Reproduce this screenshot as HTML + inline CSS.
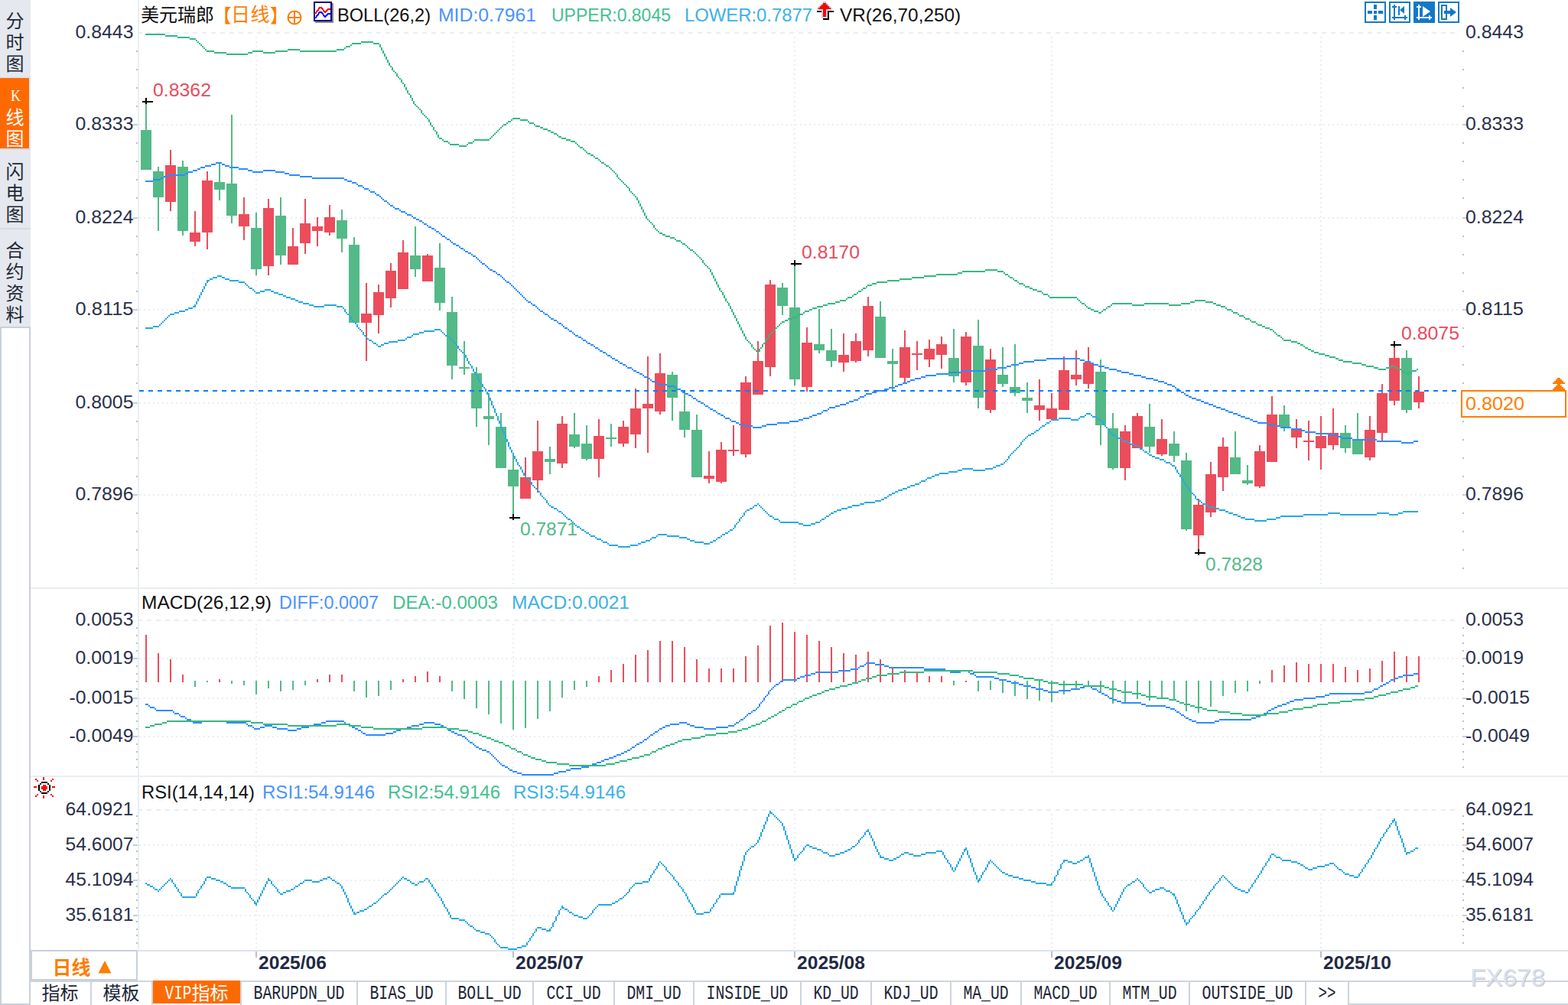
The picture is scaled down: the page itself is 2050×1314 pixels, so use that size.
<!DOCTYPE html>
<html><head><meta charset="utf-8"><title>chart</title><style>html,body{margin:0;padding:0;background:#fff}svg{display:block}text{white-space:pre}</style></head><body>
<svg width="2050" height="1314" viewBox="0 0 2050 1314" shape-rendering="crispEdges">
<rect x="0" y="0" width="2050" height="1314" fill="#fff"/>
<rect x="0" y="0" width="40" height="428" fill="#e5e8ef"/>
<rect x="0" y="102" width="38" height="92" fill="#ff6a00"/>
<rect x="0" y="100" width="40" height="2" fill="#dde1e9"/>
<rect x="0" y="194" width="40" height="2" fill="#d5dae3"/>
<rect x="0" y="298" width="40" height="2" fill="#d5dae3"/>
<rect x="0" y="427" width="40" height="887" fill="#c9d0da"/>
<rect x="2" y="429" width="36" height="883" fill="#fff"/>
<g shape-rendering="auto">
<text x="7.5" y="36" font-family="Liberation Sans, Noto Sans CJK SC, sans-serif" font-size="24" fill="#1f2836">分</text>
<text x="7.5" y="64" font-family="Liberation Sans, Noto Sans CJK SC, sans-serif" font-size="24" fill="#1f2836">时</text>
<text x="7.5" y="92" font-family="Liberation Sans, Noto Sans CJK SC, sans-serif" font-size="24" fill="#1f2836">图</text>
<text x="7.5" y="162" font-family="Liberation Sans, Noto Sans CJK SC, sans-serif" font-size="24" fill="#fff">线</text>
<text x="7.5" y="190" font-family="Liberation Sans, Noto Sans CJK SC, sans-serif" font-size="24" fill="#fff">图</text>
<text x="14" y="131.5" font-family="Liberation Serif, sans-serif" font-size="22" fill="#fff" textLength="13" lengthAdjust="spacingAndGlyphs">K</text>
<text x="7.5" y="233" font-family="Liberation Sans, Noto Sans CJK SC, sans-serif" font-size="24" fill="#1f2836">闪</text>
<text x="7.5" y="261" font-family="Liberation Sans, Noto Sans CJK SC, sans-serif" font-size="24" fill="#1f2836">电</text>
<text x="7.5" y="289" font-family="Liberation Sans, Noto Sans CJK SC, sans-serif" font-size="24" fill="#1f2836">图</text>
<text x="7.5" y="336" font-family="Liberation Sans, Noto Sans CJK SC, sans-serif" font-size="24" fill="#1f2836">合</text>
<text x="7.5" y="364" font-family="Liberation Sans, Noto Sans CJK SC, sans-serif" font-size="24" fill="#1f2836">约</text>
<text x="7.5" y="392" font-family="Liberation Sans, Noto Sans CJK SC, sans-serif" font-size="24" fill="#1f2836">资</text>
<text x="7.5" y="420" font-family="Liberation Sans, Noto Sans CJK SC, sans-serif" font-size="24" fill="#1f2836">料</text>
</g>
<rect x="40" y="768" width="2010" height="2" fill="#e9eef3"/>
<rect x="40" y="1014" width="2010" height="2" fill="#e9eef3"/>
<rect x="180" y="1242" width="1870" height="2" fill="#dde3ea"/>
<rect x="180" y="0" width="2" height="1243" fill="#e9eef3"/>
<path stroke="#e9eef4" stroke-width="2" stroke-dasharray="6 6" d="M180 43H1908"/>
<path stroke="#e9eef4" stroke-width="2" stroke-dasharray="2 4" d="M182 163H1908"/>
<path stroke="#e9eef4" stroke-width="2" stroke-dasharray="2 4" d="M182 285H1908"/>
<path stroke="#e9eef4" stroke-width="2" stroke-dasharray="2 4" d="M182 405H1908"/>
<path stroke="#e9eef4" stroke-width="2" stroke-dasharray="2 4" d="M182 527H1908"/>
<path stroke="#e9eef4" stroke-width="2" stroke-dasharray="2 4" d="M182 647H1908"/>
<path stroke="#e9eef4" stroke-width="2" stroke-dasharray="6 6" d="M180 811H1908"/>
<path stroke="#e9eef4" stroke-width="2" stroke-dasharray="2 4" d="M182 861H1908"/>
<path stroke="#e9eef4" stroke-width="2" stroke-dasharray="2 4" d="M182 913H1908"/>
<path stroke="#e9eef4" stroke-width="2" stroke-dasharray="2 4" d="M182 963H1908"/>
<path stroke="#e9eef4" stroke-width="2" stroke-dasharray="6 6" d="M180 1059H1908"/>
<path stroke="#e9eef4" stroke-width="2" stroke-dasharray="2 4" d="M182 1105H1908"/>
<path stroke="#e9eef4" stroke-width="2" stroke-dasharray="2 4" d="M182 1151H1908"/>
<path stroke="#e9eef4" stroke-width="2" stroke-dasharray="2 4" d="M182 1197H1908"/>
<path stroke="#e9eef4" stroke-width="2" stroke-dasharray="2 4" d="M335 48V768"/>
<path stroke="#e9eef4" stroke-width="2" stroke-dasharray="2 4" d="M335 816V1014"/>
<path stroke="#e9eef4" stroke-width="2" stroke-dasharray="2 4" d="M335 1064V1242"/>
<rect x="334" y="1244" width="2" height="8" fill="#b9bfcc"/>
<path stroke="#e9eef4" stroke-width="2" stroke-dasharray="2 4" d="M671 48V768"/>
<path stroke="#e9eef4" stroke-width="2" stroke-dasharray="2 4" d="M671 816V1014"/>
<path stroke="#e9eef4" stroke-width="2" stroke-dasharray="2 4" d="M671 1064V1242"/>
<rect x="670" y="1244" width="2" height="8" fill="#b9bfcc"/>
<path stroke="#e9eef4" stroke-width="2" stroke-dasharray="2 4" d="M1039 48V768"/>
<path stroke="#e9eef4" stroke-width="2" stroke-dasharray="2 4" d="M1039 816V1014"/>
<path stroke="#e9eef4" stroke-width="2" stroke-dasharray="2 4" d="M1039 1064V1242"/>
<rect x="1038" y="1244" width="2" height="8" fill="#b9bfcc"/>
<path stroke="#e9eef4" stroke-width="2" stroke-dasharray="2 4" d="M1375 48V768"/>
<path stroke="#e9eef4" stroke-width="2" stroke-dasharray="2 4" d="M1375 816V1014"/>
<path stroke="#e9eef4" stroke-width="2" stroke-dasharray="2 4" d="M1375 1064V1242"/>
<rect x="1374" y="1244" width="2" height="8" fill="#b9bfcc"/>
<path stroke="#e9eef4" stroke-width="2" stroke-dasharray="2 4" d="M1727 48V768"/>
<path stroke="#e9eef4" stroke-width="2" stroke-dasharray="2 4" d="M1727 816V1014"/>
<path stroke="#e9eef4" stroke-width="2" stroke-dasharray="2 4" d="M1727 1064V1242"/>
<rect x="1726" y="1244" width="2" height="8" fill="#b9bfcc"/>
<rect x="178" y="66" width="2" height="2" fill="#b9bfcc"/>
<rect x="1912" y="66" width="2" height="2" fill="#b9bfcc"/>
<rect x="178" y="90" width="2" height="2" fill="#b9bfcc"/>
<rect x="1912" y="90" width="2" height="2" fill="#b9bfcc"/>
<rect x="178" y="114" width="2" height="2" fill="#b9bfcc"/>
<rect x="1912" y="114" width="2" height="2" fill="#b9bfcc"/>
<rect x="178" y="138" width="2" height="2" fill="#b9bfcc"/>
<rect x="1912" y="138" width="2" height="2" fill="#b9bfcc"/>
<rect x="174" y="162" width="6" height="2" fill="#c6ccd6"/>
<rect x="1912" y="162" width="6" height="2" fill="#c6ccd6"/>
<rect x="178" y="186" width="2" height="2" fill="#b9bfcc"/>
<rect x="1912" y="186" width="2" height="2" fill="#b9bfcc"/>
<rect x="178" y="210" width="2" height="2" fill="#b9bfcc"/>
<rect x="1912" y="210" width="2" height="2" fill="#b9bfcc"/>
<rect x="178" y="234" width="2" height="2" fill="#b9bfcc"/>
<rect x="1912" y="234" width="2" height="2" fill="#b9bfcc"/>
<rect x="178" y="258" width="2" height="2" fill="#b9bfcc"/>
<rect x="1912" y="258" width="2" height="2" fill="#b9bfcc"/>
<rect x="174" y="284" width="6" height="2" fill="#c6ccd6"/>
<rect x="1912" y="284" width="6" height="2" fill="#c6ccd6"/>
<rect x="178" y="308" width="2" height="2" fill="#b9bfcc"/>
<rect x="1912" y="308" width="2" height="2" fill="#b9bfcc"/>
<rect x="178" y="332" width="2" height="2" fill="#b9bfcc"/>
<rect x="1912" y="332" width="2" height="2" fill="#b9bfcc"/>
<rect x="178" y="356" width="2" height="2" fill="#b9bfcc"/>
<rect x="1912" y="356" width="2" height="2" fill="#b9bfcc"/>
<rect x="178" y="380" width="2" height="2" fill="#b9bfcc"/>
<rect x="1912" y="380" width="2" height="2" fill="#b9bfcc"/>
<rect x="174" y="404" width="6" height="2" fill="#c6ccd6"/>
<rect x="1912" y="404" width="6" height="2" fill="#c6ccd6"/>
<rect x="178" y="428" width="2" height="2" fill="#b9bfcc"/>
<rect x="1912" y="428" width="2" height="2" fill="#b9bfcc"/>
<rect x="178" y="452" width="2" height="2" fill="#b9bfcc"/>
<rect x="1912" y="452" width="2" height="2" fill="#b9bfcc"/>
<rect x="178" y="476" width="2" height="2" fill="#b9bfcc"/>
<rect x="1912" y="476" width="2" height="2" fill="#b9bfcc"/>
<rect x="178" y="500" width="2" height="2" fill="#b9bfcc"/>
<rect x="1912" y="500" width="2" height="2" fill="#b9bfcc"/>
<rect x="174" y="526" width="6" height="2" fill="#c6ccd6"/>
<rect x="1912" y="526" width="6" height="2" fill="#c6ccd6"/>
<rect x="178" y="550" width="2" height="2" fill="#b9bfcc"/>
<rect x="1912" y="550" width="2" height="2" fill="#b9bfcc"/>
<rect x="178" y="574" width="2" height="2" fill="#b9bfcc"/>
<rect x="1912" y="574" width="2" height="2" fill="#b9bfcc"/>
<rect x="178" y="598" width="2" height="2" fill="#b9bfcc"/>
<rect x="1912" y="598" width="2" height="2" fill="#b9bfcc"/>
<rect x="178" y="622" width="2" height="2" fill="#b9bfcc"/>
<rect x="1912" y="622" width="2" height="2" fill="#b9bfcc"/>
<rect x="174" y="646" width="6" height="2" fill="#c6ccd6"/>
<rect x="1912" y="646" width="6" height="2" fill="#c6ccd6"/>
<rect x="178" y="670" width="2" height="2" fill="#b9bfcc"/>
<rect x="1912" y="670" width="2" height="2" fill="#b9bfcc"/>
<rect x="178" y="694" width="2" height="2" fill="#b9bfcc"/>
<rect x="1912" y="694" width="2" height="2" fill="#b9bfcc"/>
<rect x="178" y="718" width="2" height="2" fill="#b9bfcc"/>
<rect x="1912" y="718" width="2" height="2" fill="#b9bfcc"/>
<rect x="178" y="742" width="2" height="2" fill="#b9bfcc"/>
<rect x="1912" y="742" width="2" height="2" fill="#b9bfcc"/>
<rect x="178" y="820" width="2" height="2" fill="#b9bfcc"/>
<rect x="1912" y="820" width="2" height="2" fill="#b9bfcc"/>
<rect x="178" y="830" width="2" height="2" fill="#b9bfcc"/>
<rect x="1912" y="830" width="2" height="2" fill="#b9bfcc"/>
<rect x="178" y="840" width="2" height="2" fill="#b9bfcc"/>
<rect x="1912" y="840" width="2" height="2" fill="#b9bfcc"/>
<rect x="178" y="850" width="2" height="2" fill="#b9bfcc"/>
<rect x="1912" y="850" width="2" height="2" fill="#b9bfcc"/>
<rect x="174" y="860" width="6" height="2" fill="#c6ccd6"/>
<rect x="1912" y="860" width="6" height="2" fill="#c6ccd6"/>
<rect x="178" y="870" width="2" height="2" fill="#b9bfcc"/>
<rect x="1912" y="870" width="2" height="2" fill="#b9bfcc"/>
<rect x="178" y="880" width="2" height="2" fill="#b9bfcc"/>
<rect x="1912" y="880" width="2" height="2" fill="#b9bfcc"/>
<rect x="178" y="890" width="2" height="2" fill="#b9bfcc"/>
<rect x="1912" y="890" width="2" height="2" fill="#b9bfcc"/>
<rect x="178" y="900" width="2" height="2" fill="#b9bfcc"/>
<rect x="1912" y="900" width="2" height="2" fill="#b9bfcc"/>
<rect x="174" y="912" width="6" height="2" fill="#c6ccd6"/>
<rect x="1912" y="912" width="6" height="2" fill="#c6ccd6"/>
<rect x="178" y="922" width="2" height="2" fill="#b9bfcc"/>
<rect x="1912" y="922" width="2" height="2" fill="#b9bfcc"/>
<rect x="178" y="932" width="2" height="2" fill="#b9bfcc"/>
<rect x="1912" y="932" width="2" height="2" fill="#b9bfcc"/>
<rect x="178" y="942" width="2" height="2" fill="#b9bfcc"/>
<rect x="1912" y="942" width="2" height="2" fill="#b9bfcc"/>
<rect x="178" y="952" width="2" height="2" fill="#b9bfcc"/>
<rect x="1912" y="952" width="2" height="2" fill="#b9bfcc"/>
<rect x="174" y="962" width="6" height="2" fill="#c6ccd6"/>
<rect x="1912" y="962" width="6" height="2" fill="#c6ccd6"/>
<rect x="178" y="972" width="2" height="2" fill="#b9bfcc"/>
<rect x="1912" y="972" width="2" height="2" fill="#b9bfcc"/>
<rect x="178" y="982" width="2" height="2" fill="#b9bfcc"/>
<rect x="1912" y="982" width="2" height="2" fill="#b9bfcc"/>
<rect x="178" y="992" width="2" height="2" fill="#b9bfcc"/>
<rect x="1912" y="992" width="2" height="2" fill="#b9bfcc"/>
<rect x="178" y="1002" width="2" height="2" fill="#b9bfcc"/>
<rect x="1912" y="1002" width="2" height="2" fill="#b9bfcc"/>
<rect x="178" y="1066" width="2" height="2" fill="#b9bfcc"/>
<rect x="1912" y="1066" width="2" height="2" fill="#b9bfcc"/>
<rect x="178" y="1076" width="2" height="2" fill="#b9bfcc"/>
<rect x="1912" y="1076" width="2" height="2" fill="#b9bfcc"/>
<rect x="178" y="1084" width="2" height="2" fill="#b9bfcc"/>
<rect x="1912" y="1084" width="2" height="2" fill="#b9bfcc"/>
<rect x="178" y="1094" width="2" height="2" fill="#b9bfcc"/>
<rect x="1912" y="1094" width="2" height="2" fill="#b9bfcc"/>
<rect x="174" y="1104" width="6" height="2" fill="#c6ccd6"/>
<rect x="1912" y="1104" width="6" height="2" fill="#c6ccd6"/>
<rect x="178" y="1112" width="2" height="2" fill="#b9bfcc"/>
<rect x="1912" y="1112" width="2" height="2" fill="#b9bfcc"/>
<rect x="178" y="1122" width="2" height="2" fill="#b9bfcc"/>
<rect x="1912" y="1122" width="2" height="2" fill="#b9bfcc"/>
<rect x="178" y="1130" width="2" height="2" fill="#b9bfcc"/>
<rect x="1912" y="1130" width="2" height="2" fill="#b9bfcc"/>
<rect x="178" y="1140" width="2" height="2" fill="#b9bfcc"/>
<rect x="1912" y="1140" width="2" height="2" fill="#b9bfcc"/>
<rect x="174" y="1150" width="6" height="2" fill="#c6ccd6"/>
<rect x="1912" y="1150" width="6" height="2" fill="#c6ccd6"/>
<rect x="178" y="1158" width="2" height="2" fill="#b9bfcc"/>
<rect x="1912" y="1158" width="2" height="2" fill="#b9bfcc"/>
<rect x="178" y="1168" width="2" height="2" fill="#b9bfcc"/>
<rect x="1912" y="1168" width="2" height="2" fill="#b9bfcc"/>
<rect x="178" y="1176" width="2" height="2" fill="#b9bfcc"/>
<rect x="1912" y="1176" width="2" height="2" fill="#b9bfcc"/>
<rect x="178" y="1186" width="2" height="2" fill="#b9bfcc"/>
<rect x="1912" y="1186" width="2" height="2" fill="#b9bfcc"/>
<rect x="174" y="1196" width="6" height="2" fill="#c6ccd6"/>
<rect x="1912" y="1196" width="6" height="2" fill="#c6ccd6"/>
<rect x="178" y="1204" width="2" height="2" fill="#b9bfcc"/>
<rect x="1912" y="1204" width="2" height="2" fill="#b9bfcc"/>
<rect x="178" y="1214" width="2" height="2" fill="#b9bfcc"/>
<rect x="1912" y="1214" width="2" height="2" fill="#b9bfcc"/>
<rect x="178" y="1222" width="2" height="2" fill="#b9bfcc"/>
<rect x="1912" y="1222" width="2" height="2" fill="#b9bfcc"/>
<rect x="178" y="1232" width="2" height="2" fill="#b9bfcc"/>
<rect x="1912" y="1232" width="2" height="2" fill="#b9bfcc"/>
<text x="174.5" y="50" font-family="Liberation Sans, sans-serif" font-size="24.5" fill="#2a3049" text-anchor="end" textLength="76" lengthAdjust="spacingAndGlyphs">0.8443</text>
<text x="1916" y="50" font-family="Liberation Sans, sans-serif" font-size="24.5" fill="#2a3049" textLength="76" lengthAdjust="spacingAndGlyphs">0.8443</text>
<text x="174.5" y="170" font-family="Liberation Sans, sans-serif" font-size="24.5" fill="#2a3049" text-anchor="end" textLength="76" lengthAdjust="spacingAndGlyphs">0.8333</text>
<text x="1916" y="170" font-family="Liberation Sans, sans-serif" font-size="24.5" fill="#2a3049" textLength="76" lengthAdjust="spacingAndGlyphs">0.8333</text>
<text x="174.5" y="292" font-family="Liberation Sans, sans-serif" font-size="24.5" fill="#2a3049" text-anchor="end" textLength="76" lengthAdjust="spacingAndGlyphs">0.8224</text>
<text x="1916" y="292" font-family="Liberation Sans, sans-serif" font-size="24.5" fill="#2a3049" textLength="76" lengthAdjust="spacingAndGlyphs">0.8224</text>
<text x="174.5" y="412" font-family="Liberation Sans, sans-serif" font-size="24.5" fill="#2a3049" text-anchor="end" textLength="76" lengthAdjust="spacingAndGlyphs">0.8115</text>
<text x="1916" y="412" font-family="Liberation Sans, sans-serif" font-size="24.5" fill="#2a3049" textLength="76" lengthAdjust="spacingAndGlyphs">0.8115</text>
<text x="174.5" y="534" font-family="Liberation Sans, sans-serif" font-size="24.5" fill="#2a3049" text-anchor="end" textLength="76" lengthAdjust="spacingAndGlyphs">0.8005</text>
<text x="1916" y="534" font-family="Liberation Sans, sans-serif" font-size="24.5" fill="#2a3049" textLength="76" lengthAdjust="spacingAndGlyphs">0.8005</text>
<text x="174.5" y="654" font-family="Liberation Sans, sans-serif" font-size="24.5" fill="#2a3049" text-anchor="end" textLength="76" lengthAdjust="spacingAndGlyphs">0.7896</text>
<text x="1916" y="654" font-family="Liberation Sans, sans-serif" font-size="24.5" fill="#2a3049" textLength="76" lengthAdjust="spacingAndGlyphs">0.7896</text>
<text x="174.5" y="818" font-family="Liberation Sans, sans-serif" font-size="24.5" fill="#2a3049" text-anchor="end" textLength="76" lengthAdjust="spacingAndGlyphs">0.0053</text>
<text x="1916" y="818" font-family="Liberation Sans, sans-serif" font-size="24.5" fill="#2a3049" textLength="76" lengthAdjust="spacingAndGlyphs">0.0053</text>
<text x="174.5" y="868" font-family="Liberation Sans, sans-serif" font-size="24.5" fill="#2a3049" text-anchor="end" textLength="76" lengthAdjust="spacingAndGlyphs">0.0019</text>
<text x="1916" y="868" font-family="Liberation Sans, sans-serif" font-size="24.5" fill="#2a3049" textLength="76" lengthAdjust="spacingAndGlyphs">0.0019</text>
<text x="174.5" y="920" font-family="Liberation Sans, sans-serif" font-size="24.5" fill="#2a3049" text-anchor="end" textLength="84" lengthAdjust="spacingAndGlyphs">-0.0015</text>
<text x="1916" y="920" font-family="Liberation Sans, sans-serif" font-size="24.5" fill="#2a3049" textLength="84" lengthAdjust="spacingAndGlyphs">-0.0015</text>
<text x="174.5" y="970" font-family="Liberation Sans, sans-serif" font-size="24.5" fill="#2a3049" text-anchor="end" textLength="84" lengthAdjust="spacingAndGlyphs">-0.0049</text>
<text x="1916" y="970" font-family="Liberation Sans, sans-serif" font-size="24.5" fill="#2a3049" textLength="84" lengthAdjust="spacingAndGlyphs">-0.0049</text>
<text x="174.5" y="1066" font-family="Liberation Sans, sans-serif" font-size="24.5" fill="#2a3049" text-anchor="end" textLength="89" lengthAdjust="spacingAndGlyphs">64.0921</text>
<text x="1916" y="1066" font-family="Liberation Sans, sans-serif" font-size="24.5" fill="#2a3049" textLength="89" lengthAdjust="spacingAndGlyphs">64.0921</text>
<text x="174.5" y="1112" font-family="Liberation Sans, sans-serif" font-size="24.5" fill="#2a3049" text-anchor="end" textLength="89" lengthAdjust="spacingAndGlyphs">54.6007</text>
<text x="1916" y="1112" font-family="Liberation Sans, sans-serif" font-size="24.5" fill="#2a3049" textLength="89" lengthAdjust="spacingAndGlyphs">54.6007</text>
<text x="174.5" y="1158" font-family="Liberation Sans, sans-serif" font-size="24.5" fill="#2a3049" text-anchor="end" textLength="89" lengthAdjust="spacingAndGlyphs">45.1094</text>
<text x="1916" y="1158" font-family="Liberation Sans, sans-serif" font-size="24.5" fill="#2a3049" textLength="89" lengthAdjust="spacingAndGlyphs">45.1094</text>
<text x="174.5" y="1204" font-family="Liberation Sans, sans-serif" font-size="24.5" fill="#2a3049" text-anchor="end" textLength="89" lengthAdjust="spacingAndGlyphs">35.6181</text>
<text x="1916" y="1204" font-family="Liberation Sans, sans-serif" font-size="24.5" fill="#2a3049" textLength="89" lengthAdjust="spacingAndGlyphs">35.6181</text>
<path fill="#53b987" d="M190 132h2v90h-2zM184 170h14v52h-14zM206 218h2v84h-2zM200 224h14v34h-14zM238 210h2v98h-2zM232 218h14v84h-14zM286 212h2v50h-2zM280 238h14v10h-14zM302 150h2v142h-2zM296 240h14v42h-14zM334 278h2v82h-2zM328 298h14v54h-14zM366 258h2v88h-2zM360 282h14v52h-14zM446 274h2v56h-2zM440 288h14v24h-14zM462 310h2v112h-2zM456 320h14v102h-14zM542 296h2v66h-2zM536 334h14v18h-14zM574 318h2v88h-2zM568 350h14v46h-14zM590 388h2v108h-2zM584 408h14v70h-14zM606 446h2v44h-2zM600 480h14v2h-14zM622 480h2v78h-2zM616 488h14v46h-14zM638 514h2v68h-2zM632 544h14v4h-14zM654 540h2v72h-2zM648 558h14v54h-14zM670 596h2v80h-2zM664 614h14v22h-14zM718 584h2v36h-2zM712 600h14v4h-14zM750 540h2v46h-2zM744 568h14v16h-14zM766 556h2v46h-2zM760 580h14v20h-14zM798 554h2v30h-2zM792 572h14v2h-14zM878 486h2v64h-2zM872 490h14v30h-14zM894 512h2v60h-2zM888 538h14v24h-14zM910 542h2v82h-2zM904 562h14v62h-14zM1022 370h2v42h-2zM1016 376h14v24h-14zM1038 344h2v160h-2zM1032 402h14v94h-14zM1070 404h2v58h-2zM1064 450h14v8h-14zM1086 430h2v50h-2zM1080 458h14v14h-14zM1150 394h2v74h-2zM1144 414h14v54h-14zM1166 456h2v56h-2zM1160 472h14v4h-14zM1246 430h2v70h-2zM1240 468h14v24h-14zM1278 418h2v116h-2zM1272 452h14v68h-14zM1310 454h2v52h-2zM1304 490h14v12h-14zM1326 450h2v68h-2zM1320 506h14v8h-14zM1342 500h2v40h-2zM1336 520h14v4h-14zM1438 470h2v112h-2zM1432 486h14v70h-14zM1454 540h2v74h-2zM1448 560h14v52h-14zM1502 528h2v64h-2zM1496 558h14v26h-14zM1534 564h2v40h-2zM1528 580h14v16h-14zM1550 592h2v102h-2zM1544 602h14v90h-14zM1614 564h2v56h-2zM1608 598h14v22h-14zM1630 608h2v26h-2zM1624 628h14v4h-14zM1678 530h2v34h-2zM1672 542h14v16h-14zM1758 556h2v36h-2zM1752 566h14v20h-14zM1774 540h2v54h-2zM1768 574h14v20h-14zM1838 458h2v82h-2zM1832 468h14v68h-14z"/>
<path fill="#eb4d5c" d="M222 196h2v80h-2zM216 216h14v48h-14zM254 276h2v46h-2zM248 304h14v12h-14zM270 224h2v102h-2zM264 236h14v68h-14zM318 258h2v56h-2zM312 280h14v16h-14zM350 260h2v100h-2zM344 272h14v76h-14zM382 298h2v48h-2zM376 322h14v24h-14zM398 260h2v72h-2zM392 292h14v26h-14zM414 284h2v38h-2zM408 296h14v6h-14zM430 268h2v40h-2zM424 284h14v20h-14zM478 370h2v102h-2zM472 410h14v12h-14zM494 372h2v64h-2zM488 382h14v30h-14zM510 344h2v58h-2zM504 354h14v36h-14zM526 314h2v64h-2zM520 330h14v48h-14zM558 332h2v36h-2zM552 334h14v34h-14zM686 598h2v54h-2zM680 624h14v28h-14zM702 550h2v94h-2zM696 590h14v38h-14zM734 544h2v68h-2zM728 554h14v52h-14zM782 548h2v76h-2zM776 570h14v30h-14zM814 550h2v34h-2zM808 558h14v22h-14zM830 508h2v78h-2zM824 534h14v34h-14zM846 466h2v126h-2zM840 528h14v6h-14zM862 462h2v80h-2zM856 488h14v50h-14zM926 590h2v42h-2zM920 622h14v4h-14zM942 578h2v54h-2zM936 588h14v42h-14zM958 556h2v40h-2zM952 588h14v2h-14zM974 492h2v106h-2zM968 500h14v94h-14zM990 446h2v70h-2zM984 472h14v44h-14zM1006 366h2v126h-2zM1000 372h14v108h-14zM1054 428h2v84h-2zM1048 448h14v58h-14zM1102 436h2v50h-2zM1096 464h14v10h-14zM1118 436h2v38h-2zM1112 446h14v26h-14zM1134 388h2v78h-2zM1128 400h14v58h-14zM1182 432h2v68h-2zM1176 454h14v40h-14zM1198 446h2v38h-2zM1192 462h14v2h-14zM1214 444h2v36h-2zM1208 456h14v14h-14zM1230 440h2v42h-2zM1224 450h14v14h-14zM1262 434h2v70h-2zM1256 440h14v60h-14zM1294 456h2v84h-2zM1288 470h14v66h-14zM1358 496h2v54h-2zM1352 530h14v6h-14zM1374 514h2v34h-2zM1368 534h14v14h-14zM1390 466h2v70h-2zM1384 484h14v52h-14zM1406 458h2v46h-2zM1400 490h14v6h-14zM1422 454h2v54h-2zM1416 474h14v28h-14zM1470 556h2v72h-2zM1464 564h14v48h-14zM1486 540h2v46h-2zM1480 544h14v42h-14zM1518 548h2v48h-2zM1512 574h14v20h-14zM1566 652h2v68h-2zM1560 660h14v40h-14zM1582 604h2v72h-2zM1576 620h14v50h-14zM1598 572h2v70h-2zM1592 584h14v40h-14zM1646 582h2v56h-2zM1640 590h14v46h-14zM1662 518h2v86h-2zM1656 542h14v62h-14zM1694 548h2v38h-2zM1688 560h14v12h-14zM1710 550h2v52h-2zM1704 576h14v2h-14zM1726 544h2v70h-2zM1720 570h14v16h-14zM1742 534h2v54h-2zM1736 566h14v16h-14zM1790 544h2v58h-2zM1784 562h14v36h-14zM1806 502h2v74h-2zM1800 514h14v52h-14zM1822 452h2v78h-2zM1816 468h14v56h-14zM1854 492h2v42h-2zM1848 512h14v14h-14z"/>
<path fill="#2e8bff" d="M190 236h10v2h-10zM200 234h10v2h-10zM210 232h4v2h-4zM214 230h6v2h-6zM220 228h22v2h-22zM242 226h4v2h-4zM246 224h6v2h-6zM252 222h6v2h-6zM258 220h4v2h-4zM262 218h6v2h-6zM268 216h8v2h-8zM276 214h6v2h-6zM282 212h8v2h-8zM290 214h4v2h-4zM294 216h6v2h-6zM300 218h12v2h-12zM312 220h12v2h-12zM324 222h6v2h-6zM330 224h14v2h-14zM344 222h16v2h-16zM360 224h12v2h-12zM372 226h6v2h-6zM378 228h14v2h-14zM392 230h16v2h-16zM408 232h42v2h-42zM450 234h4v2h-4zM454 236h6v2h-6zM460 238h6v2h-6zM466 240h2v2h-2zM468 242h6v2h-6zM474 244h2v2h-2zM476 246h6v2h-6zM482 248h2v2h-2zM484 250h6v2h-6zM490 252h2v2h-2zM492 254h4v2h-4zM496 256h2v2h-2zM498 258h2v2h-2zM500 260h2v2h-2zM502 262h4v2h-4zM506 264h2v2h-2zM508 266h2v2h-2zM510 268h4v2h-4zM514 270h2v2h-2zM516 272h6v2h-6zM522 274h2v2h-2zM524 276h6v2h-6zM530 278h2v2h-2zM532 280h6v2h-6zM538 282h2v2h-2zM540 284h4v2h-4zM544 286h4v2h-4zM548 288h4v2h-4zM552 290h2v2h-2zM554 292h4v2h-4zM558 294h2v2h-2zM560 296h4v2h-4zM564 298h4v2h-4zM568 300h2v2h-2zM570 302h4v2h-4zM574 304h2v2h-2zM576 306h2v2h-2zM578 308h4v2h-4zM582 310h2v2h-2zM584 312h4v2h-4zM588 314h2v2h-2zM590 316h2v2h-2zM592 318h4v2h-4zM596 320h4v2h-4zM600 322h2v2h-2zM602 324h4v2h-4zM606 326h2v2h-2zM608 328h4v2h-4zM612 330h4v2h-4zM616 332h2v2h-2zM618 334h4v2h-4zM622 336h2v2h-2zM624 338h2v2h-2zM626 340h2v2h-2zM628 342h2v2h-2zM630 344h4v2h-4zM634 346h2v2h-2zM636 348h2v2h-2zM638 350h2v2h-2zM640 352h4v2h-4zM644 354h4v2h-4zM648 356h2v2h-2zM650 358h4v2h-4zM654 360h2v2h-2zM656 362h2v2h-2zM658 364h2v2h-2zM660 366h2v2h-2zM662 368h4v2h-4zM666 370h2v2h-2zM668 372h2v2h-2zM670 374h2v2h-2zM672 376h2v2h-2zM674 378h2v2h-2zM676 380h2v2h-2zM678 382h2v2h-2zM680 384h2v2h-2zM682 386h2v2h-2zM684 388h2v2h-2zM686 390h2v2h-2zM688 392h2v2h-2zM690 394h4v2h-4zM694 396h2v2h-2zM696 398h4v2h-4zM700 400h2v2h-2zM702 402h2v2h-2zM704 404h2v2h-2zM706 406h4v2h-4zM710 408h2v2h-2zM712 410h4v2h-4zM716 412h2v2h-2zM718 414h2v2h-2zM720 416h4v2h-4zM724 418h4v2h-4zM728 420h2v2h-2zM730 422h4v2h-4zM734 424h2v2h-2zM736 426h2v2h-2zM738 428h4v2h-4zM742 430h2v2h-2zM744 432h4v2h-4zM748 434h2v2h-2zM750 436h2v2h-2zM752 438h4v2h-4zM756 440h4v2h-4zM760 442h2v2h-2zM762 444h4v2h-4zM766 446h2v2h-2zM768 448h4v2h-4zM772 450h4v2h-4zM776 452h2v2h-2zM778 454h4v2h-4zM782 456h2v2h-2zM784 458h4v2h-4zM788 460h4v2h-4zM792 462h2v2h-2zM794 464h4v2h-4zM798 466h2v2h-2zM800 468h4v2h-4zM804 470h4v2h-4zM808 472h2v2h-2zM810 474h4v2h-4zM814 476h4v2h-4zM818 478h2v2h-2zM820 480h6v2h-6zM826 482h2v2h-2zM828 484h4v2h-4zM832 486h4v2h-4zM836 488h4v2h-4zM840 490h2v2h-2zM842 492h4v2h-4zM846 494h4v2h-4zM850 496h2v2h-2zM852 498h6v2h-6zM858 500h2v2h-2zM860 502h12v2h-12zM872 504h10v2h-10zM882 506h2v2h-2zM884 508h6v2h-6zM890 510h2v2h-2zM892 512h4v2h-4zM896 514h4v2h-4zM900 516h4v2h-4zM904 518h2v2h-2zM906 520h4v2h-4zM910 522h2v2h-2zM912 524h4v2h-4zM916 526h4v2h-4zM920 528h2v2h-2zM922 530h4v2h-4zM926 532h2v2h-2zM928 534h4v2h-4zM932 536h4v2h-4zM936 538h2v2h-2zM938 540h4v2h-4zM942 542h4v2h-4zM946 544h2v2h-2zM948 546h6v2h-6zM954 548h2v2h-2zM956 550h6v2h-6zM962 552h4v2h-4zM966 554h6v2h-6zM972 556h12v2h-12zM984 558h12v2h-12zM996 556h6v2h-6zM1002 554h14v2h-14zM1016 552h16v2h-16zM1032 550h12v2h-12zM1044 548h6v2h-6zM1050 546h8v2h-8zM1058 544h4v2h-4zM1062 542h6v2h-6zM1068 540h6v2h-6zM1074 538h2v2h-2zM1076 536h6v2h-6zM1082 534h2v2h-2zM1084 532h8v2h-8zM1092 530h6v2h-6zM1098 528h8v2h-8zM1106 526h4v2h-4zM1110 524h6v2h-6zM1116 522h6v2h-6zM1122 520h2v2h-2zM1124 518h6v2h-6zM1130 516h2v2h-2zM1132 514h8v2h-8zM1140 512h6v2h-6zM1146 510h10v2h-10zM1156 508h6v2h-6zM1162 506h8v2h-8zM1170 504h4v2h-4zM1174 502h6v2h-6zM1180 500h6v2h-6zM1186 498h4v2h-4zM1190 496h6v2h-6zM1196 494h8v2h-8zM1204 492h6v2h-6zM1210 490h14v2h-14zM1224 488h16v2h-16zM1240 486h16v2h-16zM1256 484h32v2h-32zM1288 482h16v2h-16zM1304 480h12v2h-12zM1316 478h6v2h-6zM1322 476h10v2h-10zM1332 474h6v2h-6zM1338 472h14v2h-14zM1352 470h16v2h-16zM1368 468h44v2h-44zM1412 470h6v2h-6zM1418 472h8v2h-8zM1426 474h4v2h-4zM1430 476h6v2h-6zM1436 478h8v2h-8zM1444 480h6v2h-6zM1450 482h10v2h-10zM1460 484h6v2h-6zM1466 486h10v2h-10zM1476 488h6v2h-6zM1482 490h10v2h-10zM1492 492h6v2h-6zM1498 494h10v2h-10zM1508 496h6v2h-6zM1514 498h8v2h-8zM1522 500h4v2h-4zM1526 502h6v2h-6zM1532 504h4v2h-4zM1536 506h2v2h-2zM1538 508h4v2h-4zM1542 510h2v2h-2zM1544 512h4v2h-4zM1548 514h2v2h-2zM1550 516h4v2h-4zM1554 518h4v2h-4zM1558 520h6v2h-6zM1564 522h6v2h-6zM1570 524h4v2h-4zM1574 526h6v2h-6zM1580 528h6v2h-6zM1586 530h4v2h-4zM1590 532h6v2h-6zM1596 534h6v2h-6zM1602 536h4v2h-4zM1606 538h6v2h-6zM1612 540h6v2h-6zM1618 542h4v2h-4zM1622 544h6v2h-6zM1628 546h6v2h-6zM1634 548h4v2h-4zM1638 550h6v2h-6zM1644 552h12v2h-12zM1656 554h12v2h-12zM1668 556h6v2h-6zM1674 558h14v2h-14zM1688 560h12v2h-12zM1700 562h6v2h-6zM1706 564h14v2h-14zM1720 566h16v2h-16zM1736 568h12v2h-12zM1748 570h6v2h-6zM1754 572h14v2h-14zM1768 574h32v2h-32zM1800 576h32v2h-32zM1832 578h16v2h-16zM1848 576h6v2h-6z"/>
<path fill="#35b882" d="M190 44h26v2h-26zM216 46h16v2h-16zM232 48h16v2h-16zM248 50h8v2h-8zM256 52h2v2h-2zM258 54h2v2h-2zM260 56h2v2h-2zM262 58h2v2h-2zM264 60h2v2h-2zM266 62h2v2h-2zM268 64h2v2h-2zM270 66h10v2h-10zM280 68h16v2h-16zM296 70h28v2h-28zM324 68h6v2h-6zM330 66h14v2h-14zM344 68h16v2h-16zM360 66h16v2h-16zM376 64h16v2h-16zM392 66h48v2h-48zM440 64h10v2h-10zM450 62h2v2h-2zM452 60h6v2h-6zM458 58h2v2h-2zM460 56h12v2h-12zM472 54h16v2h-16zM488 56h8v2h-8zM496 58h2v4h-2zM498 62h2v4h-2zM500 66h2v4h-2zM502 70h2v4h-2zM504 74h2v4h-2zM506 78h2v4h-2zM508 82h2v4h-2zM510 86h2v2h-2zM512 88h2v4h-2zM514 92h2v2h-2zM516 94h2v2h-2zM518 96h2v4h-2zM520 100h2v2h-2zM522 102h2v2h-2zM524 104h2v4h-2zM526 108h2v2h-2zM528 110h2v4h-2zM530 114h2v4h-2zM532 118h2v4h-2zM534 122h2v2h-2zM536 124h2v4h-2zM538 128h2v4h-2zM540 132h2v4h-2zM542 136h2v2h-2zM544 138h2v2h-2zM546 140h2v2h-2zM548 142h2v2h-2zM550 144h2v4h-2zM552 148h2v2h-2zM554 150h2v2h-2zM556 152h2v2h-2zM558 154h2v2h-2zM560 156h2v4h-2zM562 160h2v4h-2zM564 164h2v2h-2zM566 166h2v4h-2zM568 170h2v2h-2zM570 172h2v4h-2zM572 176h2v4h-2zM574 180h4v2h-4zM578 182h2v2h-2zM580 184h6v2h-6zM586 186h2v2h-2zM588 188h12v2h-12zM600 190h10v2h-10zM610 188h2v2h-2zM612 186h6v2h-6zM618 184h2v2h-2zM620 182h20v2h-20zM640 180h2v2h-2zM642 178h2v2h-2zM644 176h2v2h-2zM646 174h2v2h-2zM648 172h2v2h-2zM650 170h2v2h-2zM652 168h2v2h-2zM654 166h2v2h-2zM656 164h2v2h-2zM658 162h4v2h-4zM662 160h2v2h-2zM664 158h4v2h-4zM668 156h2v2h-2zM670 154h10v2h-10zM680 156h10v2h-10zM690 158h2v2h-2zM692 160h6v2h-6zM698 162h2v2h-2zM700 164h6v2h-6zM706 166h4v2h-4zM710 168h6v2h-6zM716 170h4v2h-4zM720 172h4v2h-4zM724 174h4v2h-4zM728 176h2v2h-2zM730 178h4v2h-4zM734 180h6v2h-6zM740 182h6v2h-6zM746 184h6v2h-6zM752 186h2v2h-2zM754 188h2v2h-2zM756 190h2v2h-2zM758 192h4v2h-4zM762 194h2v2h-2zM764 196h2v2h-2zM766 198h2v2h-2zM768 200h4v2h-4zM772 202h4v2h-4zM776 204h2v2h-2zM778 206h4v2h-4zM782 208h2v2h-2zM784 210h2v2h-2zM786 212h4v2h-4zM790 214h2v2h-2zM792 216h4v2h-4zM796 218h2v2h-2zM798 220h2v2h-2zM800 222h2v2h-2zM802 224h2v2h-2zM804 226h2v2h-2zM806 228h2v4h-2zM808 232h2v2h-2zM810 234h2v2h-2zM812 236h2v2h-2zM814 238h2v2h-2zM816 240h2v2h-2zM818 242h2v2h-2zM820 244h2v2h-2zM822 246h2v4h-2zM824 250h2v2h-2zM826 252h2v2h-2zM828 254h2v2h-2zM830 256h2v2h-2zM832 258h2v4h-2zM834 262h2v4h-2zM836 266h2v4h-2zM838 270h2v4h-2zM840 274h2v4h-2zM842 278h2v4h-2zM844 282h2v4h-2zM846 286h2v2h-2zM848 288h2v2h-2zM850 290h2v2h-2zM852 292h2v2h-2zM854 294h2v4h-2zM856 298h2v2h-2zM858 300h2v2h-2zM860 302h2v2h-2zM862 304h4v2h-4zM866 306h4v2h-4zM870 308h6v2h-6zM876 310h6v2h-6zM882 312h2v2h-2zM884 314h6v2h-6zM890 316h2v2h-2zM892 318h4v2h-4zM896 320h2v2h-2zM898 322h2v2h-2zM900 324h2v2h-2zM902 326h4v2h-4zM906 328h2v2h-2zM908 330h2v2h-2zM910 332h2v2h-2zM912 334h2v2h-2zM914 336h2v2h-2zM916 338h2v2h-2zM918 340h2v4h-2zM920 344h2v2h-2zM922 346h2v2h-2zM924 348h2v2h-2zM926 350h2v2h-2zM928 352h2v4h-2zM930 356h2v4h-2zM932 360h2v4h-2zM934 364h2v4h-2zM936 368h2v4h-2zM938 372h2v4h-2zM940 376h2v4h-2zM942 380h2v2h-2zM944 382h2v4h-2zM946 386h2v4h-2zM948 390h2v4h-2zM950 394h2v2h-2zM952 396h2v4h-2zM954 400h2v4h-2zM956 404h2v4h-2zM958 408h2v4h-2zM960 412h2v4h-2zM962 416h2v4h-2zM964 420h2v4h-2zM966 424h2v4h-2zM968 428h2v4h-2zM970 432h2v4h-2zM972 436h2v4h-2zM974 440h2v4h-2zM976 444h2v2h-2zM978 446h2v2h-2zM980 448h2v2h-2zM982 450h2v4h-2zM984 454h2v2h-2zM986 456h2v2h-2zM988 458h2v2h-2zM990 460h2v2h-2zM992 456h2v4h-2zM994 454h2v2h-2zM996 450h2v4h-2zM998 448h2v2h-2zM1000 444h2v4h-2zM1002 442h2v2h-2zM1004 438h2v4h-2zM1006 436h2v2h-2zM1008 434h2v2h-2zM1010 432h2v2h-2zM1012 430h2v2h-2zM1014 428h2v2h-2zM1016 426h2v2h-2zM1018 424h2v2h-2zM1020 422h2v2h-2zM1022 420h4v2h-4zM1026 418h4v2h-4zM1030 416h6v2h-6zM1036 414h6v2h-6zM1042 412h2v2h-2zM1044 410h6v2h-6zM1050 408h2v2h-2zM1052 406h6v2h-6zM1058 404h4v2h-4zM1062 402h6v2h-6zM1068 400h8v2h-8zM1076 398h6v2h-6zM1082 396h10v2h-10zM1092 394h6v2h-6zM1098 392h8v2h-8zM1106 390h2v2h-2zM1108 388h6v2h-6zM1114 386h2v2h-2zM1116 384h4v2h-4zM1120 382h2v2h-2zM1122 380h4v2h-4zM1126 378h2v2h-2zM1128 376h4v2h-4zM1132 374h2v2h-2zM1134 372h6v2h-6zM1140 370h6v2h-6zM1146 368h14v2h-14zM1160 366h16v2h-16zM1176 364h16v2h-16zM1192 362h16v2h-16zM1208 360h16v2h-16zM1224 358h28v2h-28zM1252 356h6v2h-6zM1258 354h30v2h-30zM1288 352h16v2h-16zM1304 354h8v2h-8zM1312 356h2v2h-2zM1314 358h4v2h-4zM1318 360h2v2h-2zM1320 362h4v2h-4zM1324 364h2v2h-2zM1326 366h4v2h-4zM1330 368h2v2h-2zM1332 370h6v2h-6zM1338 372h2v2h-2zM1340 374h6v2h-6zM1346 376h4v2h-4zM1350 378h6v2h-6zM1356 380h6v2h-6zM1362 382h2v2h-2zM1364 384h6v2h-6zM1370 386h2v2h-2zM1372 388h36v2h-36zM1408 390h2v2h-2zM1410 392h2v2h-2zM1412 394h2v2h-2zM1414 396h4v2h-4zM1418 398h2v2h-2zM1420 400h2v2h-2zM1422 402h4v2h-4zM1426 404h4v2h-4zM1430 406h6v2h-6zM1436 408h4v2h-4zM1440 406h2v2h-2zM1442 404h4v2h-4zM1446 402h2v2h-2zM1448 400h4v2h-4zM1452 398h2v2h-2zM1454 396h26v2h-26zM1480 398h16v2h-16zM1496 396h32v2h-32zM1528 398h16v2h-16zM1544 396h12v2h-12zM1556 394h6v2h-6zM1562 392h14v2h-14zM1576 394h10v2h-10zM1586 396h4v2h-4zM1590 398h6v2h-6zM1596 400h6v2h-6zM1602 402h2v2h-2zM1604 404h6v2h-6zM1610 406h2v2h-2zM1612 408h6v2h-6zM1618 410h2v2h-2zM1620 412h6v2h-6zM1626 414h2v2h-2zM1628 416h6v2h-6zM1634 418h2v2h-2zM1636 420h6v2h-6zM1642 422h2v2h-2zM1644 424h6v2h-6zM1650 426h4v2h-4zM1654 428h6v2h-6zM1660 430h4v2h-4zM1664 432h2v2h-2zM1666 434h2v2h-2zM1668 436h2v2h-2zM1670 438h4v2h-4zM1674 440h2v2h-2zM1676 442h2v2h-2zM1678 444h10v2h-10zM1688 446h8v2h-8zM1696 448h4v2h-4zM1700 450h4v2h-4zM1704 452h2v2h-2zM1706 454h4v2h-4zM1710 456h4v2h-4zM1714 458h4v2h-4zM1718 460h6v2h-6zM1724 462h8v2h-8zM1732 464h6v2h-6zM1738 466h8v2h-8zM1746 468h4v2h-4zM1750 470h6v2h-6zM1756 472h12v2h-12zM1768 474h12v2h-12zM1780 476h6v2h-6zM1786 478h10v2h-10zM1796 480h6v2h-6zM1802 482h10v2h-10zM1812 480h6v2h-6zM1818 478h6v2h-6zM1824 480h4v2h-4zM1828 482h4v2h-4zM1832 484h2v2h-2zM1834 486h4v2h-4zM1838 488h4v2h-4zM1842 486h4v2h-4zM1846 484h6v2h-6zM1852 482h2v2h-2z"/>
<path fill="#29a8e0" d="M190 428h10v2h-10zM200 426h8v2h-8zM208 424h2v2h-2zM210 422h2v2h-2zM212 420h2v2h-2zM214 418h2v2h-2zM216 416h2v2h-2zM218 414h2v2h-2zM220 412h2v2h-2zM222 410h6v2h-6zM228 408h6v2h-6zM234 406h8v2h-8zM242 404h4v2h-4zM246 402h6v2h-6zM252 400h4v2h-4zM254 398h2v2h-2zM256 394h2v4h-2zM258 390h2v4h-2zM260 386h2v4h-2zM262 382h2v4h-2zM264 378h2v4h-2zM266 374h2v4h-2zM268 370h2v4h-2zM270 366h4v2h-4zM270 368h2v2h-2zM274 364h4v2h-4zM278 362h6v2h-6zM284 360h6v2h-6zM290 362h4v2h-4zM294 364h6v2h-6zM300 366h12v2h-12zM312 368h8v2h-8zM320 370h2v2h-2zM322 372h2v2h-2zM324 374h2v2h-2zM326 376h4v2h-4zM330 378h2v2h-2zM332 380h2v2h-2zM334 382h6v2h-6zM340 380h6v2h-6zM346 378h8v2h-8zM354 380h4v2h-4zM358 382h6v2h-6zM364 384h6v2h-6zM370 386h4v2h-4zM374 388h6v2h-6zM380 390h6v2h-6zM386 392h4v2h-4zM390 394h6v2h-6zM396 396h8v2h-8zM404 398h6v2h-6zM410 400h14v2h-14zM424 398h16v2h-16zM440 400h8v2h-8zM448 402h2v2h-2zM450 404h2v4h-2zM452 408h2v2h-2zM454 410h2v2h-2zM456 412h2v2h-2zM458 414h2v4h-2zM460 418h2v2h-2zM462 420h2v2h-2zM464 422h2v2h-2zM466 424h2v4h-2zM468 428h2v2h-2zM470 430h2v2h-2zM472 432h2v2h-2zM474 434h2v4h-2zM476 438h2v2h-2zM478 440h2v2h-2zM480 442h2v2h-2zM482 444h4v2h-4zM486 446h2v2h-2zM488 448h4v2h-4zM492 450h2v2h-2zM494 452h4v2h-4zM498 450h4v2h-4zM502 448h6v2h-6zM508 446h12v2h-12zM520 444h10v2h-10zM530 442h2v2h-2zM532 440h6v2h-6zM538 438h2v2h-2zM540 436h8v2h-8zM548 434h6v2h-6zM554 432h14v2h-14zM568 430h8v2h-8zM576 432h2v2h-2zM578 434h2v2h-2zM580 436h2v2h-2zM582 438h4v2h-4zM586 440h2v2h-2zM588 442h2v2h-2zM590 444h2v2h-2zM592 446h2v2h-2zM594 448h2v2h-2zM596 450h2v2h-2zM598 452h2v4h-2zM600 456h2v2h-2zM602 458h2v2h-2zM604 460h2v2h-2zM606 462h2v2h-2zM608 464h2v4h-2zM610 468h2v4h-2zM612 472h2v4h-2zM614 476h2v2h-2zM616 478h2v4h-2zM618 482h2v4h-2zM620 486h2v4h-2zM622 490h2v2h-2zM624 492h2v4h-2zM626 496h2v4h-2zM628 500h2v2h-2zM630 502h2v4h-2zM632 506h2v2h-2zM634 508h2v4h-2zM636 512h2v4h-2zM638 516h2v4h-2zM640 520h2v4h-2zM642 524h2v6h-2zM644 530h2v4h-2zM646 534h2v6h-2zM648 540h2v4h-2zM650 544h2v6h-2zM652 550h2v4h-2zM654 554h2v6h-2zM656 560h2v4h-2zM658 564h2v4h-2zM660 568h2v6h-2zM662 574h2v4h-2zM664 578h2v6h-2zM666 584h2v4h-2zM668 588h2v4h-2zM670 592h2v4h-2zM672 596h2v4h-2zM674 600h2v4h-2zM676 604h2v4h-2zM678 608h2v2h-2zM680 610h2v4h-2zM682 614h2v4h-2zM684 618h2v4h-2zM686 622h2v2h-2zM688 624h2v2h-2zM690 626h2v2h-2zM692 628h2v2h-2zM694 630h2v4h-2zM696 634h2v2h-2zM698 636h2v2h-2zM700 638h2v2h-2zM702 640h2v2h-2zM704 642h2v2h-2zM706 644h2v4h-2zM708 648h2v2h-2zM710 650h2v2h-2zM712 652h2v2h-2zM714 654h2v4h-2zM716 658h2v2h-2zM718 660h2v2h-2zM720 662h4v2h-4zM724 664h4v2h-4zM728 666h2v2h-2zM730 668h4v2h-4zM734 670h2v2h-2zM736 672h2v2h-2zM738 674h2v2h-2zM740 676h2v2h-2zM742 678h4v2h-4zM746 680h2v2h-2zM748 682h2v2h-2zM750 684h2v2h-2zM752 686h2v2h-2zM754 688h4v2h-4zM758 690h2v2h-2zM760 692h4v2h-4zM764 694h2v2h-2zM766 696h4v2h-4zM770 698h2v2h-2zM772 700h6v2h-6zM778 702h2v2h-2zM780 704h6v2h-6zM786 706h2v2h-2zM788 708h6v2h-6zM794 710h2v2h-2zM796 712h12v2h-12zM808 714h16v2h-16zM824 712h10v2h-10zM834 710h4v2h-4zM838 708h6v2h-6zM844 706h6v2h-6zM850 704h2v2h-2zM852 702h6v2h-6zM858 700h2v2h-2zM860 698h12v2h-12zM872 700h16v2h-16zM888 702h10v2h-10zM898 704h4v2h-4zM902 706h6v2h-6zM908 708h12v2h-12zM920 710h8v2h-8zM928 708h4v2h-4zM932 706h4v2h-4zM936 704h2v2h-2zM938 702h4v2h-4zM942 700h2v2h-2zM944 698h4v2h-4zM948 696h4v2h-4zM952 694h2v2h-2zM954 692h4v2h-4zM958 690h2v2h-2zM960 686h2v4h-2zM962 684h2v2h-2zM964 682h2v2h-2zM966 678h2v4h-2zM968 676h2v2h-2zM970 674h2v2h-2zM972 670h2v4h-2zM974 668h2v2h-2zM976 666h4v2h-4zM980 664h4v2h-4zM984 662h2v2h-2zM986 660h4v2h-4zM990 658h2v2h-2zM992 660h2v2h-2zM994 662h2v2h-2zM996 664h2v2h-2zM998 666h2v2h-2zM1000 668h2v2h-2zM1002 670h2v2h-2zM1004 672h2v2h-2zM1006 674h4v2h-4zM1010 676h2v2h-2zM1012 678h6v2h-6zM1018 680h2v2h-2zM1020 682h24v2h-24zM1044 684h6v2h-6zM1050 686h10v2h-10zM1060 684h6v2h-6zM1066 682h6v2h-6zM1072 680h2v2h-2zM1074 678h4v2h-4zM1078 676h2v2h-2zM1080 674h4v2h-4zM1084 672h2v2h-2zM1086 670h4v2h-4zM1090 668h4v2h-4zM1094 666h6v2h-6zM1100 664h8v2h-8zM1108 662h6v2h-6zM1114 660h10v2h-10zM1124 658h6v2h-6zM1130 656h14v2h-14zM1144 654h8v2h-8zM1152 652h4v2h-4zM1156 650h4v2h-4zM1160 648h2v2h-2zM1162 646h4v2h-4zM1166 644h4v2h-4zM1170 642h4v2h-4zM1174 640h6v2h-6zM1180 638h6v2h-6zM1186 636h4v2h-4zM1190 634h6v2h-6zM1196 632h6v2h-6zM1202 630h2v2h-2zM1204 628h6v2h-6zM1210 626h2v2h-2zM1212 624h6v2h-6zM1218 622h4v2h-4zM1222 620h6v2h-6zM1228 618h12v2h-12zM1240 616h12v2h-12zM1252 614h6v2h-6zM1258 612h14v2h-14zM1272 614h16v2h-16zM1288 612h10v2h-10zM1298 610h4v2h-4zM1302 608h6v2h-6zM1308 606h4v2h-4zM1312 604h2v2h-2zM1314 602h2v2h-2zM1316 600h2v2h-2zM1318 596h2v4h-2zM1320 594h2v2h-2zM1322 592h2v2h-2zM1324 590h2v2h-2zM1326 588h2v2h-2zM1328 586h2v2h-2zM1330 584h2v2h-2zM1332 582h2v2h-2zM1334 578h2v4h-2zM1336 576h2v2h-2zM1338 574h2v2h-2zM1340 572h2v2h-2zM1342 570h2v2h-2zM1344 568h4v2h-4zM1348 566h4v2h-4zM1352 564h2v2h-2zM1354 562h4v2h-4zM1358 560h2v2h-2zM1360 558h2v2h-2zM1362 556h4v2h-4zM1366 554h2v2h-2zM1368 552h4v2h-4zM1372 550h2v2h-2zM1374 548h10v2h-10zM1384 546h16v2h-16zM1400 548h10v2h-10zM1410 546h2v2h-2zM1412 544h6v2h-6zM1418 542h2v2h-2zM1420 540h6v2h-6zM1426 542h2v2h-2zM1428 544h6v2h-6zM1434 546h2v2h-2zM1436 548h4v2h-4zM1440 550h2v2h-2zM1442 552h2v4h-2zM1444 556h2v2h-2zM1446 558h2v2h-2zM1448 560h2v2h-2zM1450 562h2v4h-2zM1452 566h2v2h-2zM1454 568h4v2h-4zM1458 570h2v2h-2zM1460 572h6v2h-6zM1466 574h2v2h-2zM1468 576h6v2h-6zM1474 578h4v2h-4zM1478 580h6v2h-6zM1484 582h4v2h-4zM1488 584h2v2h-2zM1490 586h4v2h-4zM1494 588h2v2h-2zM1496 590h4v2h-4zM1500 592h2v2h-2zM1502 594h4v2h-4zM1506 596h4v2h-4zM1510 598h6v2h-6zM1516 600h6v2h-6zM1522 602h2v2h-2zM1524 604h6v2h-6zM1530 606h2v2h-2zM1532 608h4v2h-4zM1536 610h2v4h-2zM1538 614h2v4h-2zM1540 618h2v2h-2zM1542 620h2v4h-2zM1544 624h2v2h-2zM1546 626h2v4h-2zM1548 630h2v4h-2zM1550 634h2v2h-2zM1552 636h2v2h-2zM1554 638h2v4h-2zM1556 642h2v2h-2zM1558 644h2v2h-2zM1560 646h2v2h-2zM1562 648h2v4h-2zM1564 652h2v2h-2zM1566 654h4v2h-4zM1570 656h2v2h-2zM1572 658h6v2h-6zM1578 660h2v2h-2zM1580 662h8v2h-8zM1588 664h6v2h-6zM1594 666h8v2h-8zM1602 668h4v2h-4zM1606 670h6v2h-6zM1612 672h6v2h-6zM1618 674h4v2h-4zM1622 676h6v2h-6zM1628 678h12v2h-12zM1640 680h16v2h-16zM1656 678h12v2h-12zM1668 676h6v2h-6zM1674 674h30v2h-30zM1704 672h32v2h-32zM1736 670h16v2h-16zM1752 672h48v2h-48zM1800 670h16v2h-16zM1816 672h12v2h-12zM1828 670h6v2h-6zM1834 668h20v2h-20z"/>
<path stroke="#0a7bff" stroke-width="2" stroke-dasharray="6 6" d="M182 511H1904"/>
<rect x="186" y="132" width="14" height="2" fill="#000"/>
<rect x="190" y="128" width="2" height="8" fill="#000"/>
<text x="200" y="126" font-family="Liberation Sans, sans-serif" font-size="24" fill="#e94b5e" textLength="76" lengthAdjust="spacingAndGlyphs">0.8362</text>
<rect x="1034" y="344" width="14" height="2" fill="#000"/>
<rect x="1038" y="340" width="2" height="8" fill="#000"/>
<text x="1048" y="338" font-family="Liberation Sans, sans-serif" font-size="24" fill="#e94b5e" textLength="76" lengthAdjust="spacingAndGlyphs">0.8170</text>
<rect x="1818" y="450" width="14" height="2" fill="#000"/>
<rect x="1822" y="446" width="2" height="8" fill="#000"/>
<text x="1832" y="444" font-family="Liberation Sans, sans-serif" font-size="24" fill="#e94b5e" textLength="76" lengthAdjust="spacingAndGlyphs">0.8075</text>
<rect x="666" y="676" width="14" height="2" fill="#000"/>
<rect x="670" y="672" width="2" height="8" fill="#000"/>
<text x="680" y="700" font-family="Liberation Sans, sans-serif" font-size="24" fill="#53b987" textLength="75" lengthAdjust="spacingAndGlyphs">0.7871</text>
<rect x="1562" y="722" width="14" height="2" fill="#000"/>
<rect x="1566" y="718" width="2" height="8" fill="#000"/>
<text x="1576" y="746" font-family="Liberation Sans, sans-serif" font-size="24" fill="#53b987" textLength="75" lengthAdjust="spacingAndGlyphs">0.7828</text>
<rect x="1910" y="510" width="138" height="36" fill="#ff7d00"/>
<rect x="1912" y="512" width="134" height="32" fill="#fff"/>
<text x="1916" y="535.5" font-family="Liberation Sans, sans-serif" font-size="24" fill="#ff7d00" textLength="77" lengthAdjust="spacingAndGlyphs" shape-rendering="auto">0.8020</text>
<rect x="2036" y="494" width="4" height="2" fill="#ff7d00"/>
<rect x="2034" y="496" width="8" height="2" fill="#ff7d00"/>
<rect x="2032" y="498" width="12" height="2" fill="#ff7d00"/>
<rect x="2030" y="500" width="16" height="2" fill="#ff7d00"/>
<rect x="2036" y="502" width="4" height="2" fill="#ff7d00"/>
<rect x="2034" y="504" width="8" height="2" fill="#ff7d00"/>
<rect x="2032" y="506" width="12" height="2" fill="#ff7d00"/>
<rect x="2030" y="508" width="16" height="2" fill="#ff7d00"/>
<path fill="#53b987" d="M254 890h2v8h-2zM270 890h2v2h-2zM302 890h2v4h-2zM318 890h2v6h-2zM334 890h2v18h-2zM350 890h2v10h-2zM366 890h2v14h-2zM382 890h2v12h-2zM398 890h2v6h-2zM462 890h2v14h-2zM478 890h2v22h-2zM494 890h2v20h-2zM510 890h2v12h-2zM590 890h2v14h-2zM606 890h2v24h-2zM622 890h2v36h-2zM638 890h2v44h-2zM654 890h2v56h-2zM670 890h2v64h-2zM686 890h2v62h-2zM702 890h2v50h-2zM718 890h2v40h-2zM734 890h2v22h-2zM750 890h2v12h-2zM766 890h2v8h-2zM1246 890h2v6h-2zM1278 890h2v14h-2zM1294 890h2v12h-2zM1310 890h2v16h-2zM1326 890h2v20h-2zM1342 890h2v24h-2zM1358 890h2v26h-2zM1374 890h2v28h-2zM1390 890h2v18h-2zM1406 890h2v12h-2zM1422 890h2v6h-2zM1438 890h2v16h-2zM1454 890h2v30h-2zM1470 890h2v30h-2zM1486 890h2v24h-2zM1502 890h2v26h-2zM1518 890h2v24h-2zM1534 890h2v26h-2zM1550 890h2v40h-2zM1566 890h2v42h-2zM1582 890h2v34h-2zM1598 890h2v20h-2zM1614 890h2v16h-2zM1630 890h2v14h-2zM1646 890h2v4h-2z"/>
<path fill="#eb4d5c" d="M190 830h2v62h-2zM206 854h2v38h-2zM222 862h2v30h-2zM238 882h2v10h-2zM286 888h2v4h-2zM414 888h2v4h-2zM430 882h2v10h-2zM446 882h2v10h-2zM526 888h2v4h-2zM542 884h2v8h-2zM558 878h2v14h-2zM574 884h2v8h-2zM782 884h2v8h-2zM798 876h2v16h-2zM814 868h2v24h-2zM830 856h2v36h-2zM846 850h2v42h-2zM862 838h2v54h-2zM878 838h2v54h-2zM894 846h2v46h-2zM910 862h2v30h-2zM926 874h2v18h-2zM942 874h2v18h-2zM958 874h2v18h-2zM974 858h2v34h-2zM990 844h2v48h-2zM1006 818h2v74h-2zM1022 814h2v78h-2zM1038 826h2v66h-2zM1054 830h2v62h-2zM1070 838h2v54h-2zM1086 846h2v46h-2zM1102 854h2v38h-2zM1118 856h2v36h-2zM1134 852h2v40h-2zM1150 862h2v30h-2zM1166 872h2v20h-2zM1182 876h2v16h-2zM1198 880h2v12h-2zM1214 884h2v8h-2zM1230 884h2v8h-2zM1262 890h2v2h-2zM1662 876h2v16h-2zM1678 870h2v22h-2zM1694 866h2v26h-2zM1710 868h2v24h-2zM1726 868h2v24h-2zM1742 868h2v24h-2zM1758 872h2v20h-2zM1774 876h2v16h-2zM1790 874h2v18h-2zM1806 864h2v28h-2zM1822 852h2v40h-2zM1838 858h2v34h-2zM1854 858h2v34h-2z"/>
<path fill="#2e8bff" d="M190 920h4v2h-4zM194 922h2v2h-2zM196 924h6v2h-6zM202 926h2v2h-2zM204 928h22v2h-22zM226 930h2v2h-2zM228 932h6v2h-6zM234 934h2v2h-2zM236 936h6v2h-6zM242 938h2v2h-2zM244 940h6v2h-6zM250 942h2v2h-2zM252 944h12v2h-12zM264 942h32v2h-32zM296 944h26v2h-26zM322 946h2v2h-2zM324 948h6v2h-6zM330 950h2v2h-2zM332 952h8v2h-8zM340 950h6v2h-6zM346 948h10v2h-10zM356 950h6v2h-6zM362 952h14v2h-14zM376 954h12v2h-12zM388 952h6v2h-6zM394 950h10v2h-10zM404 948h6v2h-6zM410 946h10v2h-10zM420 944h6v2h-6zM426 942h24v2h-24zM450 944h2v2h-2zM452 946h6v2h-6zM458 948h2v2h-2zM460 950h4v2h-4zM464 952h4v2h-4zM468 954h4v2h-4zM472 956h2v2h-2zM474 958h4v2h-4zM478 960h26v2h-26zM504 958h10v2h-10zM514 956h4v2h-4zM518 954h6v2h-6zM524 952h8v2h-8zM532 950h6v2h-6zM538 948h10v2h-10zM548 946h6v2h-6zM554 944h14v2h-14zM568 946h8v2h-8zM576 948h4v2h-4zM580 950h4v2h-4zM584 952h2v2h-2zM586 954h4v2h-4zM590 956h4v2h-4zM594 958h4v2h-4zM598 960h6v2h-6zM604 962h4v2h-4zM608 964h2v2h-2zM610 966h2v2h-2zM612 968h2v2h-2zM614 970h4v2h-4zM618 972h2v2h-2zM620 974h2v2h-2zM622 976h4v2h-4zM626 978h4v2h-4zM630 980h6v2h-6zM636 982h4v2h-4zM640 984h2v2h-2zM642 986h2v2h-2zM644 988h2v2h-2zM646 990h2v2h-2zM648 992h2v2h-2zM650 994h2v2h-2zM652 996h2v2h-2zM654 998h2v2h-2zM656 1000h4v2h-4zM660 1002h4v2h-4zM664 1004h2v2h-2zM666 1006h4v2h-4zM670 1008h6v2h-6zM676 1010h6v2h-6zM682 1012h42v2h-42zM724 1010h6v2h-6zM730 1008h10v2h-10zM740 1006h6v2h-6zM746 1004h14v2h-14zM760 1002h10v2h-10zM770 1000h4v2h-4zM774 998h6v2h-6zM780 996h6v2h-6zM786 994h4v2h-4zM790 992h6v2h-6zM796 990h6v2h-6zM802 988h4v2h-4zM806 986h6v2h-6zM812 984h4v2h-4zM816 982h4v2h-4zM820 980h4v2h-4zM824 978h2v2h-2zM826 976h4v2h-4zM830 974h2v2h-2zM832 972h4v2h-4zM836 970h4v2h-4zM840 968h2v2h-2zM842 966h4v2h-4zM846 964h2v2h-2zM848 962h2v2h-2zM850 960h4v2h-4zM854 958h2v2h-2zM856 956h4v2h-4zM860 954h2v2h-2zM862 952h4v2h-4zM866 950h4v2h-4zM870 948h6v2h-6zM876 946h12v2h-12zM888 944h10v2h-10zM898 946h4v2h-4zM902 948h6v2h-6zM908 950h12v2h-12zM920 952h16v2h-16zM936 950h16v2h-16zM952 948h8v2h-8zM960 946h2v2h-2zM962 944h4v2h-4zM966 942h2v2h-2zM968 940h4v2h-4zM972 938h2v2h-2zM974 936h2v2h-2zM976 934h2v2h-2zM978 932h4v2h-4zM982 930h2v2h-2zM984 928h4v2h-4zM988 926h2v2h-2zM990 924h2v2h-2zM992 920h2v4h-2zM994 918h2v2h-2zM996 916h2v2h-2zM998 912h2v4h-2zM1000 910h2v2h-2zM1002 908h2v2h-2zM1004 904h2v4h-2zM1006 902h2v2h-2zM1008 900h2v2h-2zM1010 898h2v2h-2zM1012 896h2v2h-2zM1014 894h4v2h-4zM1018 892h2v2h-2zM1020 890h2v2h-2zM1022 888h20v2h-20zM1042 886h4v2h-4zM1046 884h6v2h-6zM1052 882h8v2h-8zM1060 880h6v2h-6zM1066 878h30v2h-30zM1096 876h16v2h-16zM1112 874h10v2h-10zM1122 872h2v2h-2zM1124 870h6v2h-6zM1130 868h2v2h-2zM1132 866h12v2h-12zM1144 868h12v2h-12zM1156 870h6v2h-6zM1162 872h46v2h-46zM1208 874h28v2h-28zM1236 876h6v2h-6zM1242 878h14v2h-14zM1256 876h10v2h-10zM1266 878h2v2h-2zM1268 880h6v2h-6zM1274 882h2v2h-2zM1276 884h24v2h-24zM1300 886h6v2h-6zM1306 888h10v2h-10zM1316 890h6v2h-6zM1322 892h10v2h-10zM1332 894h6v2h-6zM1338 896h10v2h-10zM1348 898h6v2h-6zM1354 900h10v2h-10zM1364 902h6v2h-6zM1370 904h14v2h-14zM1384 902h16v2h-16zM1400 900h12v2h-12zM1412 898h6v2h-6zM1418 896h8v2h-8zM1426 898h2v2h-2zM1428 900h6v2h-6zM1434 902h2v2h-2zM1436 904h4v2h-4zM1440 906h4v2h-4zM1444 908h4v2h-4zM1448 910h2v2h-2zM1450 912h4v2h-4zM1454 914h6v2h-6zM1460 916h6v2h-6zM1466 918h26v2h-26zM1492 920h6v2h-6zM1498 922h26v2h-26zM1524 924h6v2h-6zM1530 926h6v2h-6zM1536 928h2v2h-2zM1538 930h4v2h-4zM1542 932h2v2h-2zM1544 934h4v2h-4zM1548 936h2v2h-2zM1550 938h4v2h-4zM1554 940h4v2h-4zM1558 942h6v2h-6zM1564 944h24v2h-24zM1588 942h6v2h-6zM1594 940h42v2h-42zM1636 938h6v2h-6zM1642 936h6v2h-6zM1648 934h4v2h-4zM1652 932h4v2h-4zM1656 930h2v2h-2zM1658 928h4v2h-4zM1662 926h4v2h-4zM1666 924h4v2h-4zM1670 922h6v2h-6zM1676 920h6v2h-6zM1682 918h4v2h-4zM1686 916h6v2h-6zM1692 914h12v2h-12zM1704 912h16v2h-16zM1720 910h12v2h-12zM1732 908h6v2h-6zM1738 906h46v2h-46zM1784 904h10v2h-10zM1794 902h2v2h-2zM1796 900h6v2h-6zM1802 898h2v2h-2zM1804 896h4v2h-4zM1808 894h4v2h-4zM1812 892h4v2h-4zM1816 890h2v2h-2zM1818 888h4v2h-4zM1822 886h6v2h-6zM1828 884h6v2h-6zM1834 882h14v2h-14zM1848 880h6v2h-6z"/>
<path fill="#35b882" d="M190 950h6v2h-6zM196 948h6v2h-6zM202 946h10v2h-10zM212 944h6v2h-6zM218 942h110v2h-110zM328 944h16v2h-16zM344 946h32v2h-32zM376 948h64v2h-64zM440 946h16v2h-16zM456 948h16v2h-16zM472 950h16v2h-16zM488 952h64v2h-64zM552 950h32v2h-32zM584 952h16v2h-16zM600 954h12v2h-12zM612 956h6v2h-6zM618 958h8v2h-8zM626 960h4v2h-4zM630 962h6v2h-6zM636 964h6v2h-6zM642 966h4v2h-4zM646 968h6v2h-6zM652 970h6v2h-6zM658 972h2v2h-2zM660 974h6v2h-6zM666 976h2v2h-2zM668 978h6v2h-6zM674 980h2v2h-2zM676 982h6v2h-6zM682 984h2v2h-2zM684 986h6v2h-6zM690 988h4v2h-4zM694 990h6v2h-6zM700 992h8v2h-8zM708 994h6v2h-6zM714 996h14v2h-14zM728 998h16v2h-16zM744 1000h48v2h-48zM792 998h12v2h-12zM804 996h6v2h-6zM810 994h10v2h-10zM820 992h6v2h-6zM826 990h10v2h-10zM836 988h6v2h-6zM842 986h8v2h-8zM850 984h2v2h-2zM852 982h6v2h-6zM858 980h2v2h-2zM860 978h6v2h-6zM866 976h4v2h-4zM870 974h6v2h-6zM876 972h6v2h-6zM882 970h4v2h-4zM886 968h6v2h-6zM892 966h12v2h-12zM904 964h12v2h-12zM916 962h6v2h-6zM922 960h14v2h-14zM936 958h16v2h-16zM952 956h12v2h-12zM964 954h6v2h-6zM970 952h8v2h-8zM978 950h4v2h-4zM982 948h6v2h-6zM988 946h6v2h-6zM994 944h2v2h-2zM996 942h6v2h-6zM1002 940h2v2h-2zM1004 938h4v2h-4zM1008 936h4v2h-4zM1012 934h4v2h-4zM1016 932h2v2h-2zM1018 930h4v2h-4zM1022 928h4v2h-4zM1026 926h2v2h-2zM1028 924h6v2h-6zM1034 922h2v2h-2zM1036 920h6v2h-6zM1042 918h2v2h-2zM1044 916h6v2h-6zM1050 914h2v2h-2zM1052 912h6v2h-6zM1058 910h4v2h-4zM1062 908h6v2h-6zM1068 906h6v2h-6zM1074 904h4v2h-4zM1078 902h6v2h-6zM1084 900h8v2h-8zM1092 898h6v2h-6zM1098 896h10v2h-10zM1108 894h6v2h-6zM1114 892h8v2h-8zM1122 890h4v2h-4zM1126 888h6v2h-6zM1132 886h8v2h-8zM1140 884h6v2h-6zM1146 882h14v2h-14zM1160 880h16v2h-16zM1176 878h32v2h-32zM1208 876h64v2h-64zM1272 878h32v2h-32zM1304 880h16v2h-16zM1320 882h12v2h-12zM1332 884h6v2h-6zM1338 886h14v2h-14zM1352 888h12v2h-12zM1364 890h6v2h-6zM1370 892h14v2h-14zM1384 894h32v2h-32zM1416 896h28v2h-28zM1444 898h6v2h-6zM1450 900h10v2h-10zM1460 902h6v2h-6zM1466 904h14v2h-14zM1480 906h12v2h-12zM1492 908h6v2h-6zM1498 910h14v2h-14zM1512 912h16v2h-16zM1528 914h10v2h-10zM1538 916h4v2h-4zM1542 918h6v2h-6zM1548 920h8v2h-8zM1556 922h6v2h-6zM1562 924h10v2h-10zM1572 926h6v2h-6zM1578 928h14v2h-14zM1592 930h16v2h-16zM1608 932h16v2h-16zM1624 934h32v2h-32zM1656 932h16v2h-16zM1672 930h12v2h-12zM1684 928h6v2h-6zM1690 926h14v2h-14zM1704 924h12v2h-12zM1716 922h6v2h-6zM1722 920h14v2h-14zM1736 918h16v2h-16zM1752 916h16v2h-16zM1768 914h16v2h-16zM1784 912h12v2h-12zM1796 910h6v2h-6zM1802 908h10v2h-10zM1812 906h6v2h-6zM1818 904h10v2h-10zM1828 902h6v2h-6zM1834 900h10v2h-10zM1844 898h6v2h-6zM1850 896h4v2h-4z"/>
<path fill="#29a8e0" d="M190 1154h2v2h-2zM192 1156h4v2h-4zM196 1158h4v2h-4zM200 1160h2v2h-2zM202 1162h4v2h-4zM206 1164h2v2h-2zM208 1162h2v2h-2zM210 1160h2v2h-2zM212 1158h2v2h-2zM214 1156h2v2h-2zM216 1154h2v2h-2zM218 1152h2v2h-2zM220 1150h2v2h-2zM222 1148h2v2h-2zM224 1150h2v4h-2zM226 1154h2v2h-2zM228 1156h2v4h-2zM230 1160h2v2h-2zM232 1162h2v4h-2zM234 1166h2v2h-2zM236 1168h2v4h-2zM238 1172h18v2h-18zM256 1168h2v4h-2zM258 1164h2v4h-2zM260 1162h2v2h-2zM262 1158h2v4h-2zM264 1156h2v2h-2zM266 1152h2v4h-2zM268 1148h2v4h-2zM270 1146h6v2h-6zM276 1148h6v2h-6zM282 1150h6v2h-6zM288 1152h4v2h-4zM292 1154h4v2h-4zM296 1156h2v2h-2zM298 1158h4v2h-4zM302 1160h18v2h-18zM320 1162h2v4h-2zM322 1166h2v2h-2zM324 1168h2v2h-2zM326 1170h2v4h-2zM328 1174h2v2h-2zM330 1176h2v2h-2zM332 1178h2v2h-2zM332 1180h4v2h-4zM334 1182h2v2h-2zM336 1176h2v4h-2zM338 1172h2v4h-2zM340 1168h2v4h-2zM342 1164h2v4h-2zM344 1160h2v4h-2zM346 1156h2v4h-2zM348 1152h2v4h-2zM350 1148h2v2h-2zM350 1150h4v2h-4zM354 1152h2v4h-2zM356 1156h2v2h-2zM358 1158h2v2h-2zM360 1160h2v2h-2zM362 1162h2v4h-2zM364 1166h2v2h-2zM366 1168h4v2h-4zM370 1166h4v2h-4zM374 1164h6v2h-6zM380 1162h4v2h-4zM384 1160h2v2h-2zM386 1158h4v2h-4zM390 1156h2v2h-2zM392 1154h4v2h-4zM396 1152h2v2h-2zM398 1150h10v2h-10zM408 1152h10v2h-10zM418 1150h4v2h-4zM422 1148h6v2h-6zM428 1146h4v2h-4zM432 1148h2v2h-2zM434 1150h4v2h-4zM438 1152h2v2h-2zM440 1154h4v2h-4zM444 1156h2v2h-2zM446 1158h2v4h-2zM448 1162h2v4h-2zM450 1166h2v4h-2zM452 1170h2v4h-2zM454 1174h2v6h-2zM456 1180h2v4h-2zM458 1184h2v4h-2zM460 1188h2v4h-2zM462 1192h2v2h-2zM462 1194h4v2h-4zM466 1192h4v2h-4zM470 1190h6v2h-6zM476 1188h4v2h-4zM480 1186h2v2h-2zM482 1184h4v2h-4zM486 1182h2v2h-2zM488 1180h4v2h-4zM492 1178h2v2h-2zM494 1176h2v2h-2zM496 1174h2v2h-2zM498 1172h2v2h-2zM500 1170h2v2h-2zM502 1168h4v2h-4zM506 1166h2v2h-2zM508 1164h2v2h-2zM510 1162h2v2h-2zM512 1160h2v2h-2zM514 1158h2v2h-2zM516 1156h2v2h-2zM518 1154h2v2h-2zM520 1152h2v2h-2zM522 1150h2v2h-2zM524 1148h2v2h-2zM526 1146h2v2h-2zM528 1148h4v2h-4zM532 1150h4v2h-4zM536 1152h2v2h-2zM538 1154h4v2h-4zM542 1156h4v2h-4zM546 1154h2v2h-2zM548 1152h6v2h-6zM554 1150h2v2h-2zM556 1148h4v2h-4zM560 1150h2v4h-2zM562 1154h2v2h-2zM564 1156h2v4h-2zM566 1160h2v2h-2zM568 1162h2v4h-2zM570 1166h2v2h-2zM572 1168h2v4h-2zM574 1172h2v2h-2zM576 1174h2v4h-2zM578 1178h2v4h-2zM580 1182h2v4h-2zM582 1186h2v2h-2zM584 1188h2v4h-2zM586 1192h2v4h-2zM588 1196h2v4h-2zM590 1200h10v2h-10zM600 1202h8v2h-8zM608 1204h2v2h-2zM610 1206h2v2h-2zM612 1208h2v2h-2zM614 1210h4v2h-4zM618 1212h2v2h-2zM620 1214h2v2h-2zM622 1216h6v2h-6zM628 1218h6v2h-6zM634 1220h6v2h-6zM640 1222h2v2h-2zM642 1224h2v2h-2zM644 1226h2v2h-2zM646 1228h2v4h-2zM648 1232h2v2h-2zM650 1234h2v2h-2zM652 1236h2v2h-2zM654 1238h10v2h-10zM664 1240h12v2h-12zM676 1238h6v2h-6zM682 1236h6v2h-6zM688 1232h2v4h-2zM690 1230h2v2h-2zM692 1226h2v4h-2zM694 1224h2v2h-2zM696 1220h2v4h-2zM698 1218h2v2h-2zM700 1214h2v4h-2zM702 1212h6v2h-6zM708 1214h6v2h-6zM714 1216h6v2h-6zM718 1214h2v2h-2zM720 1212h2v2h-2zM722 1206h2v6h-2zM724 1204h2v2h-2zM726 1198h2v6h-2zM728 1196h2v2h-2zM730 1190h2v6h-2zM732 1188h2v2h-2zM734 1184h2v2h-2zM734 1186h4v2h-4zM738 1188h4v2h-4zM742 1190h2v2h-2zM744 1192h4v2h-4zM748 1194h2v2h-2zM750 1196h6v2h-6zM756 1198h6v2h-6zM762 1200h6v2h-6zM768 1198h2v2h-2zM770 1196h2v2h-2zM772 1194h2v2h-2zM774 1190h2v4h-2zM776 1188h2v2h-2zM778 1186h2v2h-2zM780 1184h2v2h-2zM782 1182h18v2h-18zM800 1180h4v2h-4zM804 1178h4v2h-4zM808 1176h2v2h-2zM810 1174h4v2h-4zM814 1172h2v2h-2zM816 1170h2v2h-2zM818 1168h2v2h-2zM820 1166h2v2h-2zM822 1162h2v4h-2zM824 1160h2v2h-2zM826 1158h2v2h-2zM828 1156h2v2h-2zM830 1154h10v2h-10zM840 1152h8v2h-8zM848 1148h2v4h-2zM850 1144h2v4h-2zM852 1142h2v2h-2zM854 1138h2v4h-2zM856 1136h2v2h-2zM858 1132h2v4h-2zM860 1128h2v4h-2zM862 1126h2v2h-2zM864 1128h2v2h-2zM866 1130h2v2h-2zM868 1132h2v2h-2zM870 1134h2v4h-2zM872 1138h2v2h-2zM874 1140h2v2h-2zM876 1142h2v2h-2zM878 1144h2v2h-2zM880 1146h2v4h-2zM882 1150h2v2h-2zM884 1152h2v2h-2zM886 1154h2v4h-2zM888 1158h2v2h-2zM890 1160h2v2h-2zM892 1162h2v4h-2zM894 1166h2v2h-2zM896 1168h2v4h-2zM898 1172h2v4h-2zM900 1176h2v4h-2zM902 1180h2v2h-2zM904 1182h2v4h-2zM906 1186h2v4h-2zM908 1190h2v4h-2zM910 1194h10v2h-10zM920 1192h8v2h-8zM928 1188h2v4h-2zM930 1186h2v2h-2zM932 1182h2v4h-2zM934 1180h2v2h-2zM936 1176h2v4h-2zM938 1174h2v2h-2zM940 1170h2v4h-2zM942 1168h18v2h-18zM958 1166h2v2h-2zM960 1158h2v8h-2zM962 1152h2v6h-2zM964 1146h2v6h-2zM966 1138h2v8h-2zM968 1132h2v6h-2zM970 1126h2v6h-2zM972 1118h2v8h-2zM974 1114h2v4h-2zM976 1112h2v2h-2zM978 1110h2v2h-2zM980 1108h2v2h-2zM982 1106h4v2h-4zM986 1104h2v2h-2zM988 1102h2v2h-2zM990 1098h2v4h-2zM992 1094h2v4h-2zM994 1088h2v6h-2zM996 1084h2v4h-2zM998 1078h2v6h-2zM1000 1074h2v4h-2zM1002 1068h2v6h-2zM1004 1064h2v4h-2zM1006 1060h2v2h-2zM1006 1062h4v2h-4zM1010 1064h2v2h-2zM1012 1066h2v2h-2zM1014 1068h2v2h-2zM1016 1070h2v2h-2zM1018 1072h2v2h-2zM1020 1074h2v2h-2zM1022 1076h2v4h-2zM1024 1080h2v6h-2zM1026 1086h2v6h-2zM1028 1092h2v6h-2zM1030 1098h2v6h-2zM1032 1104h2v6h-2zM1034 1110h2v6h-2zM1036 1116h2v6h-2zM1038 1122h4v2h-4zM1038 1124h2v2h-2zM1042 1118h2v4h-2zM1044 1116h2v2h-2zM1046 1114h2v2h-2zM1048 1112h2v2h-2zM1050 1108h2v4h-2zM1052 1106h2v2h-2zM1054 1104h4v2h-4zM1058 1106h4v2h-4zM1062 1108h6v2h-6zM1068 1110h6v2h-6zM1074 1112h2v2h-2zM1076 1114h6v2h-6zM1082 1116h2v2h-2zM1084 1118h8v2h-8zM1092 1116h6v2h-6zM1098 1114h6v2h-6zM1104 1112h4v2h-4zM1108 1110h4v2h-4zM1112 1108h2v2h-2zM1114 1106h4v2h-4zM1118 1104h2v2h-2zM1120 1102h2v2h-2zM1122 1098h2v4h-2zM1124 1096h2v2h-2zM1126 1094h2v2h-2zM1128 1092h2v2h-2zM1130 1088h2v4h-2zM1132 1086h4v2h-4zM1134 1084h2v2h-2zM1136 1088h2v4h-2zM1138 1092h2v4h-2zM1140 1096h2v4h-2zM1142 1100h2v6h-2zM1144 1106h2v4h-2zM1146 1110h2v4h-2zM1148 1114h2v4h-2zM1150 1118h2v2h-2zM1150 1120h6v2h-6zM1156 1122h6v2h-6zM1162 1124h6v2h-6zM1168 1122h4v2h-4zM1172 1120h4v2h-4zM1176 1118h2v2h-2zM1178 1116h4v2h-4zM1182 1114h6v2h-6zM1188 1116h6v2h-6zM1194 1118h10v2h-10zM1204 1116h6v2h-6zM1210 1114h14v2h-14zM1224 1112h8v2h-8zM1232 1114h2v4h-2zM1234 1118h2v4h-2zM1236 1122h2v2h-2zM1238 1124h2v4h-2zM1240 1128h2v2h-2zM1242 1130h2v4h-2zM1244 1134h2v4h-2zM1246 1138h2v2h-2zM1248 1134h2v4h-2zM1250 1130h2v4h-2zM1252 1126h2v4h-2zM1254 1122h2v4h-2zM1256 1118h2v4h-2zM1258 1114h2v4h-2zM1260 1110h4v2h-4zM1260 1112h2v2h-2zM1262 1108h2v2h-2zM1264 1112h2v6h-2zM1266 1118h2v4h-2zM1268 1122h2v6h-2zM1270 1128h2v6h-2zM1272 1134h2v6h-2zM1274 1140h2v4h-2zM1276 1144h2v6h-2zM1278 1150h4v2h-4zM1278 1152h2v2h-2zM1280 1148h2v2h-2zM1282 1144h2v4h-2zM1284 1140h2v4h-2zM1286 1138h2v2h-2zM1288 1134h2v4h-2zM1290 1130h2v4h-2zM1292 1126h2v4h-2zM1294 1124h2v2h-2zM1296 1126h2v2h-2zM1298 1128h2v2h-2zM1300 1130h2v2h-2zM1302 1132h2v2h-2zM1304 1134h2v2h-2zM1306 1136h2v2h-2zM1308 1138h2v2h-2zM1310 1140h4v2h-4zM1314 1142h4v2h-4zM1318 1144h6v2h-6zM1324 1146h8v2h-8zM1332 1148h6v2h-6zM1338 1150h10v2h-10zM1348 1152h6v2h-6zM1354 1154h14v2h-14zM1368 1156h8v2h-8zM1374 1154h2v2h-2zM1376 1152h2v2h-2zM1378 1146h2v6h-2zM1380 1144h2v2h-2zM1382 1138h2v6h-2zM1384 1136h2v2h-2zM1386 1130h2v6h-2zM1388 1128h2v2h-2zM1390 1124h6v2h-6zM1390 1126h2v2h-2zM1396 1126h6v2h-6zM1402 1128h6v2h-6zM1408 1126h4v2h-4zM1412 1124h4v2h-4zM1416 1122h2v2h-2zM1418 1120h6v2h-6zM1422 1118h2v2h-2zM1424 1122h2v6h-2zM1426 1128h2v6h-2zM1428 1134h2v6h-2zM1430 1140h2v6h-2zM1432 1146h2v6h-2zM1434 1152h2v6h-2zM1436 1158h2v6h-2zM1438 1164h2v4h-2zM1440 1168h2v4h-2zM1442 1172h2v2h-2zM1444 1174h2v4h-2zM1446 1178h2v2h-2zM1448 1180h2v4h-2zM1450 1184h2v2h-2zM1452 1186h2v4h-2zM1454 1190h2v2h-2zM1456 1186h2v4h-2zM1458 1182h2v4h-2zM1460 1178h2v4h-2zM1462 1174h2v4h-2zM1464 1170h2v4h-2zM1466 1166h2v4h-2zM1468 1162h2v4h-2zM1470 1160h2v2h-2zM1472 1158h2v2h-2zM1474 1156h4v2h-4zM1478 1154h2v2h-2zM1480 1152h4v2h-4zM1484 1150h2v2h-2zM1486 1148h2v2h-2zM1488 1150h2v2h-2zM1490 1152h2v2h-2zM1492 1154h2v2h-2zM1494 1156h2v4h-2zM1496 1160h2v2h-2zM1498 1162h2v2h-2zM1500 1164h2v2h-2zM1502 1166h4v2h-4zM1506 1164h4v2h-4zM1510 1162h6v2h-6zM1516 1160h6v2h-6zM1522 1162h2v2h-2zM1524 1164h6v2h-6zM1530 1166h2v2h-2zM1532 1168h4v2h-4zM1534 1170h2v2h-2zM1536 1172h2v4h-2zM1538 1176h2v6h-2zM1540 1182h2v4h-2zM1542 1186h2v6h-2zM1544 1192h2v4h-2zM1546 1196h2v6h-2zM1548 1202h2v4h-2zM1550 1206h4v2h-4zM1550 1208h2v2h-2zM1554 1202h2v4h-2zM1556 1200h2v2h-2zM1558 1198h2v2h-2zM1560 1196h2v2h-2zM1562 1192h2v4h-2zM1564 1190h2v2h-2zM1566 1188h2v2h-2zM1568 1184h2v4h-2zM1570 1182h2v2h-2zM1572 1178h2v4h-2zM1574 1176h2v2h-2zM1576 1172h2v4h-2zM1578 1170h2v2h-2zM1580 1166h2v4h-2zM1582 1164h2v2h-2zM1584 1162h2v2h-2zM1586 1158h2v4h-2zM1588 1156h2v2h-2zM1590 1154h2v2h-2zM1592 1152h2v2h-2zM1594 1148h2v4h-2zM1596 1146h2v2h-2zM1598 1144h2v2h-2zM1600 1146h2v2h-2zM1602 1148h2v2h-2zM1604 1150h2v2h-2zM1606 1152h2v2h-2zM1608 1154h2v2h-2zM1610 1156h2v2h-2zM1612 1158h2v2h-2zM1614 1160h4v2h-4zM1618 1162h4v2h-4zM1622 1164h6v2h-6zM1628 1166h4v2h-4zM1632 1162h2v4h-2zM1634 1160h2v2h-2zM1636 1156h2v4h-2zM1638 1154h2v2h-2zM1640 1150h2v4h-2zM1642 1148h2v2h-2zM1644 1144h2v4h-2zM1646 1142h2v2h-2zM1648 1138h2v4h-2zM1650 1134h2v4h-2zM1652 1132h2v2h-2zM1654 1128h2v4h-2zM1656 1126h2v2h-2zM1658 1122h2v4h-2zM1660 1118h2v4h-2zM1662 1116h4v2h-4zM1666 1118h2v2h-2zM1668 1120h6v2h-6zM1674 1122h2v2h-2zM1676 1124h12v2h-12zM1688 1126h8v2h-8zM1696 1128h4v2h-4zM1700 1130h4v2h-4zM1704 1132h2v2h-2zM1706 1134h4v2h-4zM1710 1136h6v2h-6zM1716 1134h6v2h-6zM1722 1132h10v2h-10zM1732 1130h6v2h-6zM1738 1128h6v2h-6zM1744 1130h2v2h-2zM1746 1132h2v2h-2zM1748 1134h2v2h-2zM1750 1136h4v2h-4zM1754 1138h2v2h-2zM1756 1140h2v2h-2zM1758 1142h6v2h-6zM1764 1144h6v2h-6zM1770 1146h6v2h-6zM1776 1142h2v4h-2zM1778 1140h2v2h-2zM1780 1136h2v4h-2zM1782 1134h2v2h-2zM1784 1130h2v4h-2zM1786 1128h2v2h-2zM1788 1124h2v4h-2zM1790 1122h2v2h-2zM1792 1118h2v4h-2zM1794 1114h2v4h-2zM1796 1110h2v4h-2zM1798 1108h2v2h-2zM1800 1104h2v4h-2zM1802 1100h2v4h-2zM1804 1096h2v4h-2zM1806 1094h2v2h-2zM1808 1090h2v4h-2zM1810 1088h2v2h-2zM1812 1084h2v4h-2zM1814 1082h2v2h-2zM1816 1078h2v4h-2zM1818 1076h2v2h-2zM1820 1072h4v2h-4zM1820 1074h2v2h-2zM1822 1070h2v2h-2zM1824 1074h2v6h-2zM1826 1080h2v6h-2zM1828 1086h2v6h-2zM1830 1092h2v4h-2zM1832 1096h2v6h-2zM1834 1102h2v6h-2zM1836 1108h2v6h-2zM1838 1114h6v2h-6zM1838 1116h2v2h-2zM1844 1112h4v2h-4zM1848 1110h2v2h-2zM1850 1108h4v2h-4z"/>
<g shape-rendering="auto">
<text x="184" y="28" font-family="Liberation Sans, Noto Sans CJK SC, sans-serif" font-size="24" fill="#0a0a0a">美元瑞郎</text>
<text x="278.5" y="29" font-family="Liberation Sans, Noto Sans CJK SC, sans-serif" font-size="24" fill="#ff7d00">【</text>
<text x="302" y="28" font-family="Liberation Sans, Noto Sans CJK SC, sans-serif" font-size="25" fill="#ff7d00">日</text>
<text x="327.5" y="28" font-family="Liberation Sans, Noto Sans CJK SC, sans-serif" font-size="25" fill="#ff7d00">线</text>
<text x="353" y="29" font-family="Liberation Sans, Noto Sans CJK SC, sans-serif" font-size="24" fill="#ff7d00">】</text>
<g stroke="#ff7d00" stroke-width="2" fill="none"><circle cx="385" cy="23" r="8.5"/><path d="M376 23H394M385 14V32"/></g>
<text x="441" y="28" font-family="Liberation Sans, sans-serif" font-size="24" fill="#111" textLength="122" lengthAdjust="spacingAndGlyphs">BOLL(26,2)</text>
<text x="573" y="28" font-family="Liberation Sans, sans-serif" font-size="24" fill="#4a93ff" textLength="128" lengthAdjust="spacingAndGlyphs">MID:0.7961</text>
<text x="721" y="28" font-family="Liberation Sans, sans-serif" font-size="24" fill="#45bf90" textLength="156" lengthAdjust="spacingAndGlyphs">UPPER:0.8045</text>
<text x="895" y="28" font-family="Liberation Sans, sans-serif" font-size="24" fill="#3db1e6" textLength="167" lengthAdjust="spacingAndGlyphs">LOWER:0.7877</text>
<text x="1098" y="28" font-family="Liberation Sans, sans-serif" font-size="24" fill="#111" textLength="158" lengthAdjust="spacingAndGlyphs">VR(26,70,250)</text>
<text x="185" y="796" font-family="Liberation Sans, sans-serif" font-size="24" fill="#111" textLength="170" lengthAdjust="spacingAndGlyphs">MACD(26,12,9)</text>
<text x="365" y="796" font-family="Liberation Sans, sans-serif" font-size="24" fill="#4a93ff" textLength="130" lengthAdjust="spacingAndGlyphs">DIFF:0.0007</text>
<text x="513" y="796" font-family="Liberation Sans, sans-serif" font-size="24" fill="#45bf90" textLength="138" lengthAdjust="spacingAndGlyphs">DEA:-0.0003</text>
<text x="669" y="796" font-family="Liberation Sans, sans-serif" font-size="24" fill="#3db1e6" textLength="154" lengthAdjust="spacingAndGlyphs">MACD:0.0021</text>
<text x="185" y="1044" font-family="Liberation Sans, sans-serif" font-size="24" fill="#111" textLength="148" lengthAdjust="spacingAndGlyphs">RSI(14,14,14)</text>
<text x="343" y="1044" font-family="Liberation Sans, sans-serif" font-size="24" fill="#4a93ff" textLength="147" lengthAdjust="spacingAndGlyphs">RSI1:54.9146</text>
<text x="507" y="1044" font-family="Liberation Sans, sans-serif" font-size="24" fill="#45bf90" textLength="147" lengthAdjust="spacingAndGlyphs">RSI2:54.9146</text>
<text x="671" y="1044" font-family="Liberation Sans, sans-serif" font-size="24" fill="#3db1e6" textLength="147" lengthAdjust="spacingAndGlyphs">RSI3:54.9146</text>
<text x="338" y="1267" font-family="Liberation Sans, sans-serif" font-size="24" fill="#1f2a44" font-weight="bold" textLength="89" lengthAdjust="spacingAndGlyphs">2025/06</text>
<text x="674" y="1267" font-family="Liberation Sans, sans-serif" font-size="24" fill="#1f2a44" font-weight="bold" textLength="89" lengthAdjust="spacingAndGlyphs">2025/07</text>
<text x="1042" y="1267" font-family="Liberation Sans, sans-serif" font-size="24" fill="#1f2a44" font-weight="bold" textLength="89" lengthAdjust="spacingAndGlyphs">2025/08</text>
<text x="1378" y="1267" font-family="Liberation Sans, sans-serif" font-size="24" fill="#1f2a44" font-weight="bold" textLength="89" lengthAdjust="spacingAndGlyphs">2025/09</text>
<text x="1730" y="1267" font-family="Liberation Sans, sans-serif" font-size="24" fill="#1f2a44" font-weight="bold" textLength="89" lengthAdjust="spacingAndGlyphs">2025/10</text>
</g>
<rect x="412" y="4" width="24" height="26" fill="#8a8a8a"/>
<rect x="410" y="2" width="24" height="26" fill="#000080"/>
<rect x="412" y="4" width="20" height="22" fill="#fff"/>
<path fill="none" stroke="#f00" stroke-width="2" d="M412 18l6-8 2 0 5 6 4-4 3 0"/>
<path fill="none" stroke="#00f" stroke-width="2" d="M412 24l6-8 2 0 5 6 4-4 3 0"/>
<rect x="1076" y="2" width="4" height="2" fill="#c3d3d8"/>
<rect x="1074" y="4" width="8" height="2" fill="#c3d3d8"/>
<rect x="1072" y="6" width="12" height="2" fill="#c3d3d8"/>
<rect x="1070" y="8" width="16" height="2" fill="#c3d3d8"/>
<rect x="1068" y="10" width="20" height="2" fill="#c3d3d8"/>
<rect x="1068" y="12" width="20" height="1.2" fill="#c3d3d8"/>
<rect x="1074" y="12" width="8" height="12" fill="#c3d3d8"/>
<rect x="1076" y="4" width="4" height="2" fill="#f00"/>
<rect x="1074" y="6" width="8" height="2" fill="#f00"/>
<rect x="1072" y="8" width="12" height="2" fill="#f00"/>
<rect x="1070" y="10" width="16" height="2" fill="#f00"/>
<rect x="1076" y="12" width="4" height="10" fill="#f00"/>
<rect x="1068" y="14" width="6" height="2" fill="#000"/>
<rect x="1082" y="14" width="8" height="2" fill="#000"/>
<rect x="1082" y="14" width="2" height="12" fill="#000"/>
<rect x="1076" y="24" width="8" height="2" fill="#000"/>
<rect x="56" y="1016" width="2" height="4" fill="#f00"/>
<rect x="56" y="1040" width="2" height="4" fill="#f00"/>
<rect x="44" y="1028" width="4" height="2" fill="#f00"/>
<rect x="68" y="1028" width="4" height="2" fill="#f00"/>
<rect x="46" y="1018" width="2" height="2" fill="#f00"/>
<rect x="48" y="1020" width="2" height="2" fill="#f00"/>
<rect x="68" y="1018" width="2" height="2" fill="#f00"/>
<rect x="66" y="1020" width="2" height="2" fill="#f00"/>
<rect x="48" y="1038" width="2" height="2" fill="#f00"/>
<rect x="46" y="1040" width="2" height="2" fill="#f00"/>
<rect x="66" y="1038" width="2" height="2" fill="#f00"/>
<rect x="68" y="1040" width="2" height="2" fill="#f00"/>
<rect x="56" y="1026" width="4" height="8" fill="#f00"/>
<rect x="54" y="1028" width="8" height="4" fill="#f00"/>
<rect x="54" y="1022" width="8" height="2" fill="#000"/>
<rect x="52" y="1024" width="2" height="2" fill="#000"/>
<rect x="62" y="1024" width="2" height="2" fill="#000"/>
<rect x="50" y="1026" width="2" height="8" fill="#000"/>
<rect x="64" y="1026" width="2" height="8" fill="#000"/>
<rect x="52" y="1034" width="2" height="2" fill="#000"/>
<rect x="62" y="1034" width="2" height="2" fill="#000"/>
<rect x="54" y="1036" width="8" height="2" fill="#000"/>
<rect x="1784" y="2" width="28" height="28" fill="#1478c8"/>
<rect x="1786" y="4" width="24" height="24" fill="#fff"/>
<rect x="1816" y="2" width="28" height="28" fill="#1478c8"/>
<rect x="1818" y="4" width="24" height="24" fill="#fff"/>
<rect x="1848" y="2" width="28" height="28" fill="#1478c8"/>
<rect x="1880" y="2" width="28" height="28" fill="#1478c8"/>
<rect x="1882" y="4" width="24" height="24" fill="#fff"/>
<rect x="1788" y="14" width="6" height="4" fill="#1478c8"/>
<rect x="1802" y="14" width="6" height="4" fill="#1478c8"/>
<rect x="1796" y="6" width="4" height="6" fill="#1478c8"/>
<rect x="1796" y="20" width="4" height="6" fill="#1478c8"/>
<rect x="1796" y="14" width="4" height="4" fill="#1478c8"/>
<rect x="1822" y="6" width="2" height="20" fill="#1478c8"/>
<rect x="1820" y="22" width="20" height="2" fill="#1478c8"/>
<rect x="1820" y="8" width="6" height="2" fill="#1478c8"/>
<rect x="1836" y="20" width="2" height="6" fill="#1478c8"/>
<rect x="1828" y="8" width="2" height="12" fill="#1478c8"/>
<path fill="#1478c8" d="M1836 8v10l-6-5z" shape-rendering="auto"/>
<rect x="1854" y="6" width="2" height="20" fill="#fff"/>
<rect x="1852" y="22" width="20" height="2" fill="#fff"/>
<rect x="1852" y="8" width="6" height="2" fill="#fff"/>
<rect x="1868" y="20" width="2" height="6" fill="#fff"/>
<path fill="#fff" d="M1860 8v14l10-7z" shape-rendering="auto"/>
<rect x="1884" y="6" width="8" height="20" fill="#1478c8"/>
<rect x="1886" y="8" width="4" height="16" fill="#fff"/>
<rect x="1888" y="14" width="10" height="4" fill="#1478c8"/>
<path fill="#1478c8" d="M1896 10v12l8-6z" shape-rendering="auto"/>
<rect x="40" y="1242" width="140" height="40" fill="#c9d0da"/>
<rect x="42" y="1244" width="136" height="36" fill="#fff"/>
<g shape-rendering="auto">
<text x="68.5" y="1274" font-family="Liberation Sans, Noto Sans CJK SC, sans-serif" font-size="25" font-weight="bold" fill="#ff7d00">日线</text>
<path fill="#ff7d00" d="M128.5 1272.5l8.5-16.5l8.5 16.5z"/>
</g>
<rect x="40" y="1282" width="2010" height="2" fill="#ccd4de"/>
<rect x="1764" y="1312" width="286" height="2" fill="#ccd4de"/>
<g shape-rendering="auto">
<rect x="118" y="1284" width="2" height="30" fill="#ccd4de" shape-rendering="crispEdges"/>
<text x="54.5" y="1307" font-family="Liberation Sans, Noto Sans CJK SC, sans-serif" font-size="24" fill="#1b2436">指标</text>
<rect x="198" y="1284" width="2" height="30" fill="#ccd4de" shape-rendering="crispEdges"/>
<text x="134.5" y="1307" font-family="Liberation Sans, Noto Sans CJK SC, sans-serif" font-size="24" fill="#1b2436">模板</text>
<rect x="200" y="1282" width="114" height="30" fill="#ff6a00" shape-rendering="crispEdges"/>
<rect x="314" y="1284" width="2" height="30" fill="#ccd4de" shape-rendering="crispEdges"/>
<text x="215.5" y="1306" font-family="Liberation Mono, sans-serif" font-size="25" fill="#fff" textLength="35" lengthAdjust="spacingAndGlyphs">VIP</text>
<text x="250.5" y="1307" font-family="Liberation Sans, Noto Sans CJK SC, sans-serif" font-size="24" fill="#fff">指标</text>
<rect x="466" y="1284" width="2" height="30" fill="#ccd4de" shape-rendering="crispEdges"/>
<text x="331.5" y="1306" font-family="Liberation Mono, sans-serif" font-size="25" fill="#1b2436" textLength="119" lengthAdjust="spacingAndGlyphs">BARUPDN_UD</text>
<rect x="582" y="1284" width="2" height="30" fill="#ccd4de" shape-rendering="crispEdges"/>
<text x="483.5" y="1306" font-family="Liberation Mono, sans-serif" font-size="25" fill="#1b2436" textLength="83" lengthAdjust="spacingAndGlyphs">BIAS_UD</text>
<rect x="696" y="1284" width="2" height="30" fill="#ccd4de" shape-rendering="crispEdges"/>
<text x="598.5" y="1306" font-family="Liberation Mono, sans-serif" font-size="25" fill="#1b2436" textLength="83" lengthAdjust="spacingAndGlyphs">BOLL_UD</text>
<rect x="802" y="1284" width="2" height="30" fill="#ccd4de" shape-rendering="crispEdges"/>
<text x="714.5" y="1306" font-family="Liberation Mono, sans-serif" font-size="25" fill="#1b2436" textLength="71" lengthAdjust="spacingAndGlyphs">CCI_UD</text>
<rect x="906" y="1284" width="2" height="30" fill="#ccd4de" shape-rendering="crispEdges"/>
<text x="819.5" y="1306" font-family="Liberation Mono, sans-serif" font-size="25" fill="#1b2436" textLength="71" lengthAdjust="spacingAndGlyphs">DMI_UD</text>
<rect x="1046" y="1284" width="2" height="30" fill="#ccd4de" shape-rendering="crispEdges"/>
<text x="923.5" y="1306" font-family="Liberation Mono, sans-serif" font-size="25" fill="#1b2436" textLength="107" lengthAdjust="spacingAndGlyphs">INSIDE_UD</text>
<rect x="1138" y="1284" width="2" height="30" fill="#ccd4de" shape-rendering="crispEdges"/>
<text x="1063.5" y="1306" font-family="Liberation Mono, sans-serif" font-size="25" fill="#1b2436" textLength="59" lengthAdjust="spacingAndGlyphs">KD_UD</text>
<rect x="1242" y="1284" width="2" height="30" fill="#ccd4de" shape-rendering="crispEdges"/>
<text x="1155.5" y="1306" font-family="Liberation Mono, sans-serif" font-size="25" fill="#1b2436" textLength="71" lengthAdjust="spacingAndGlyphs">KDJ_UD</text>
<rect x="1334" y="1284" width="2" height="30" fill="#ccd4de" shape-rendering="crispEdges"/>
<text x="1259.5" y="1306" font-family="Liberation Mono, sans-serif" font-size="25" fill="#1b2436" textLength="59" lengthAdjust="spacingAndGlyphs">MA_UD</text>
<rect x="1450" y="1284" width="2" height="30" fill="#ccd4de" shape-rendering="crispEdges"/>
<text x="1351.5" y="1306" font-family="Liberation Mono, sans-serif" font-size="25" fill="#1b2436" textLength="83" lengthAdjust="spacingAndGlyphs">MACD_UD</text>
<rect x="1554" y="1284" width="2" height="30" fill="#ccd4de" shape-rendering="crispEdges"/>
<text x="1467.5" y="1306" font-family="Liberation Mono, sans-serif" font-size="25" fill="#1b2436" textLength="71" lengthAdjust="spacingAndGlyphs">MTM_UD</text>
<rect x="1706" y="1284" width="2" height="30" fill="#ccd4de" shape-rendering="crispEdges"/>
<text x="1571.5" y="1306" font-family="Liberation Mono, sans-serif" font-size="25" fill="#1b2436" textLength="119" lengthAdjust="spacingAndGlyphs">OUTSIDE_UD</text>
<rect x="1762" y="1284" width="2" height="30" fill="#ccd4de" shape-rendering="crispEdges"/>
<text x="1723.5" y="1306" font-family="Liberation Mono, sans-serif" font-size="25" fill="#1b2436" textLength="23" lengthAdjust="spacingAndGlyphs">&gt;&gt;</text>
<text x="1923" y="1290" font-family="Liberation Sans, sans-serif" font-size="31" fill="#bfae9c" textLength="98" lengthAdjust="spacingAndGlyphs" opacity="0.75">FX678</text>
<text x="1922" y="1289" font-family="Liberation Sans, sans-serif" font-size="31" fill="#d6e3f5" textLength="98" lengthAdjust="spacingAndGlyphs">FX678</text>
</g>
</svg></body></html>
